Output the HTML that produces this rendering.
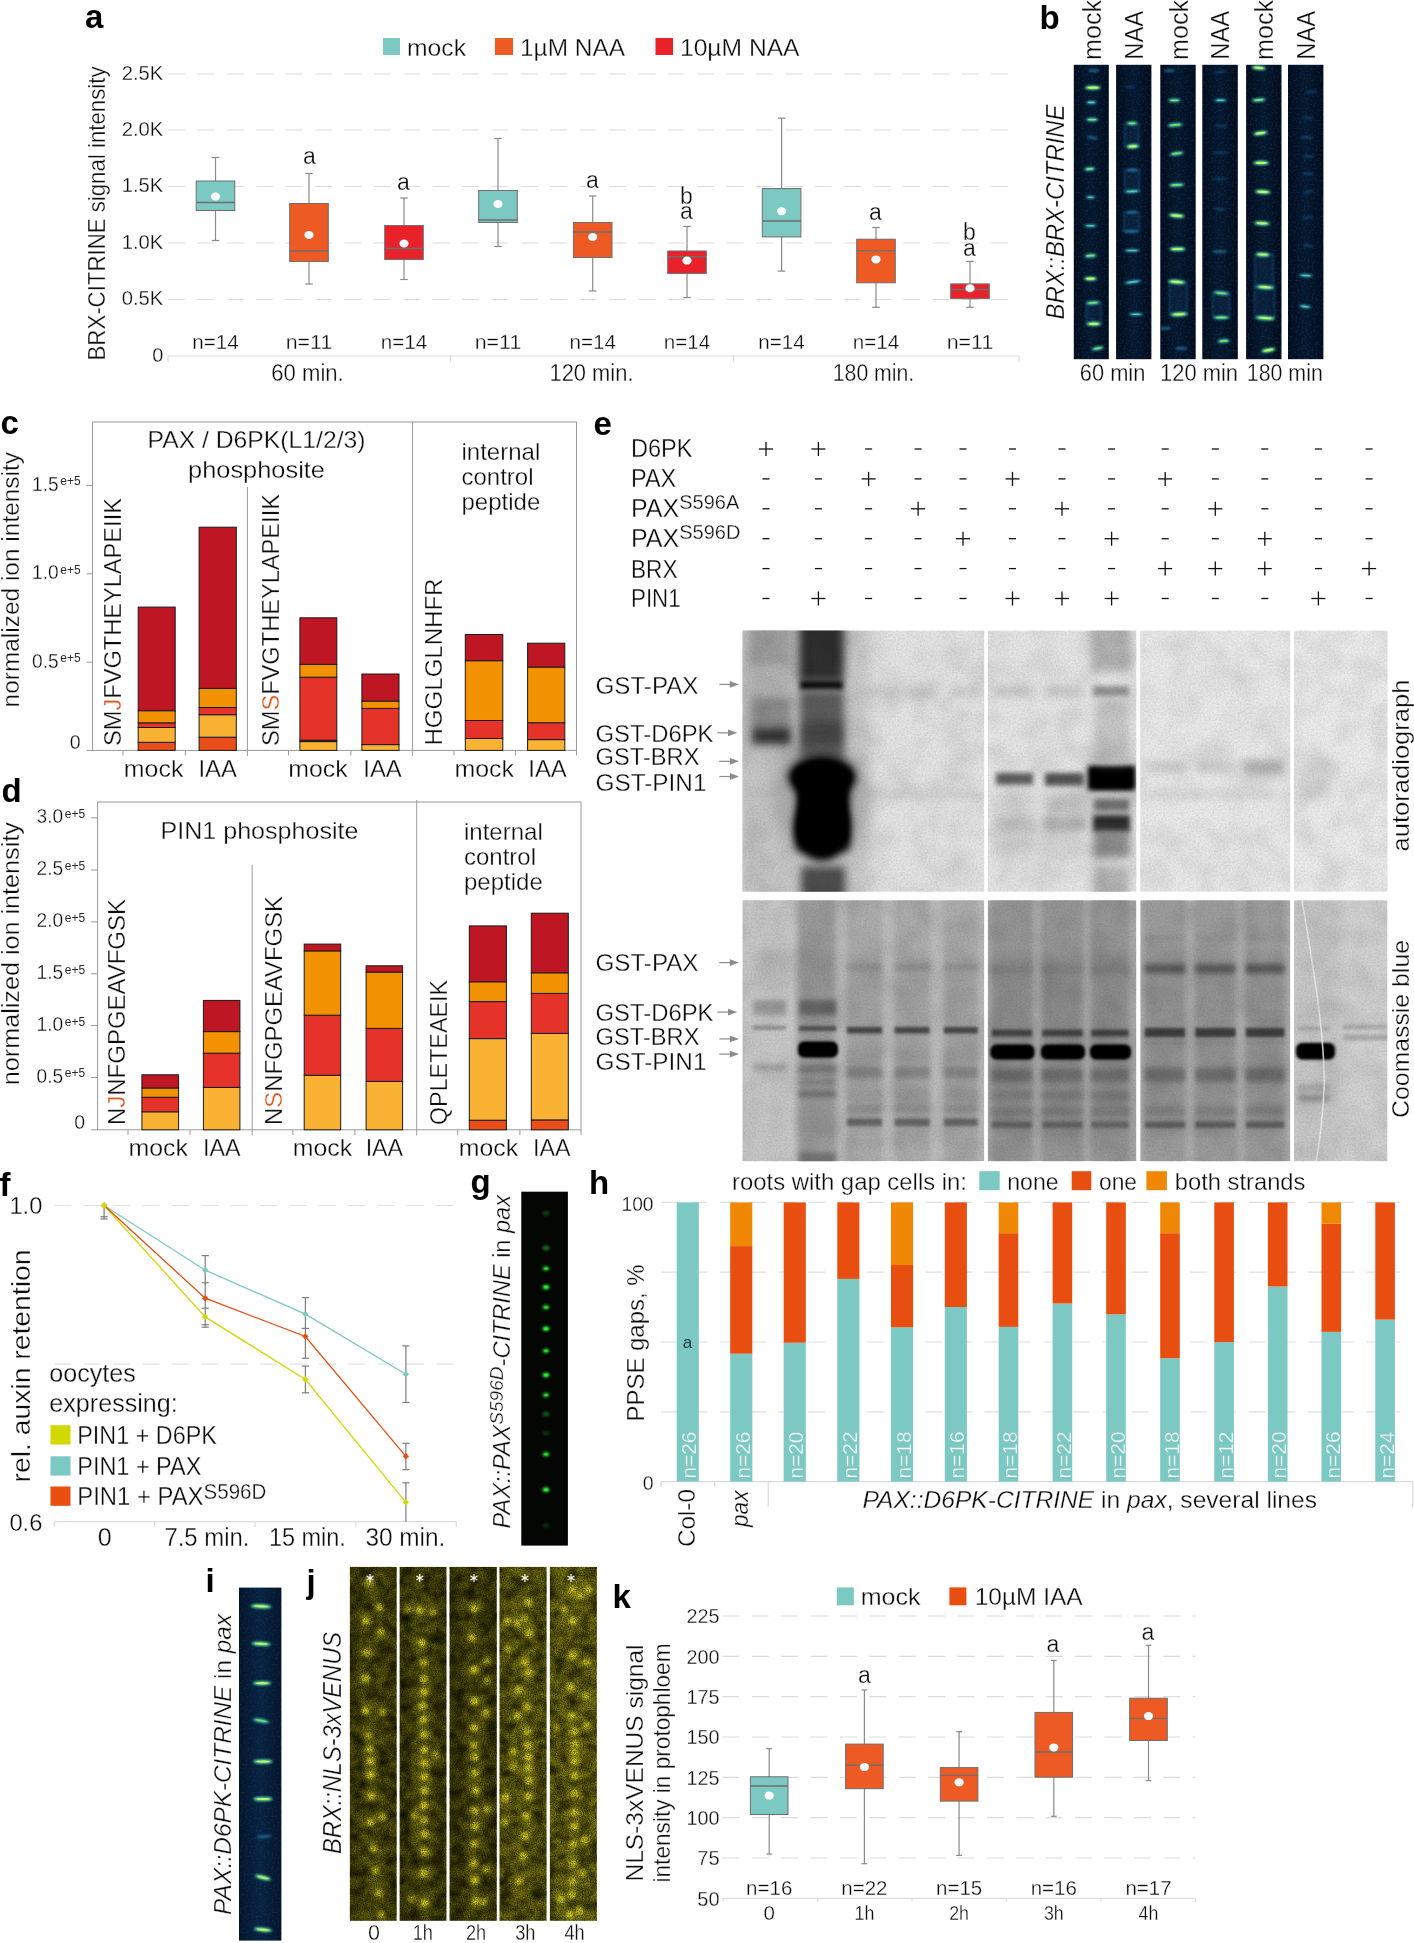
<!DOCTYPE html>
<html><head><meta charset="utf-8"><title>figure</title>
<style>
html,body{margin:0;padding:0;background:#fff;}
svg{display:block;will-change:transform;transform:translateZ(0)}
text{font-family:"Liberation Sans",sans-serif;}
text.t{stroke:#fff;stroke-width:0.3px;paint-order:fill stroke;}
</style></head><body>
<svg width="1414" height="1943" viewBox="0 0 1414 1943">
<defs>
<filter id="b1" x="-50%" y="-50%" width="200%" height="200%"><feGaussianBlur stdDeviation="1"/></filter>
<filter id="b2" x="-50%" y="-50%" width="200%" height="200%"><feGaussianBlur stdDeviation="2"/></filter>
<filter id="b3" x="-50%" y="-50%" width="200%" height="200%"><feGaussianBlur stdDeviation="3.5"/></filter>
<filter id="b08" x="-50%" y="-150%" width="200%" height="400%"><feGaussianBlur stdDeviation="0.8"/></filter>
<filter id="b04" x="-50%" y="-150%" width="200%" height="400%"><feGaussianBlur stdDeviation="0.45"/></filter>
<filter id="b05" x="-50%" y="-50%" width="200%" height="200%"><feGaussianBlur stdDeviation="0.6"/></filter>
</defs>
<rect width="1414" height="1943" fill="#fff"/>
<text x="85.0" y="28.0" font-size="33" font-weight="bold" class="n" fill="#000" >a</text>
<rect x="383.0" y="38.0" width="17.0" height="17.0" fill="#7cc8c2" />
<text x="407.0" y="55.5" font-size="24.5" textLength="59.0" lengthAdjust="spacingAndGlyphs" class="t" fill="#0c0c0c" >mock</text>
<rect x="495.0" y="38.0" width="18.0" height="17.0" fill="#ee5a24" />
<text x="520.0" y="55.5" font-size="24.5" textLength="105.0" lengthAdjust="spacingAndGlyphs" class="t" fill="#0c0c0c" >1µM NAA</text>
<rect x="655.5" y="38.0" width="17.5" height="17.0" fill="#e8212b" />
<text x="680.0" y="55.5" font-size="24.5" textLength="119.5" lengthAdjust="spacingAndGlyphs" class="t" fill="#0c0c0c" >10µM NAA</text>
<line x1="168.0" y1="74.0" x2="1019.0" y2="74.0" stroke="#dcdcdc" stroke-width="1.2" stroke-dasharray="17 12.4"/>
<text x="163.3" y="79.9" font-size="20" text-anchor="end" textLength="41.6" lengthAdjust="spacingAndGlyphs" class="t" fill="#0c0c0c" >2.5K</text>
<line x1="168.0" y1="130.0" x2="1019.0" y2="130.0" stroke="#dcdcdc" stroke-width="1.2" stroke-dasharray="17 12.4"/>
<text x="163.3" y="135.9" font-size="20" text-anchor="end" textLength="41.6" lengthAdjust="spacingAndGlyphs" class="t" fill="#0c0c0c" >2.0K</text>
<line x1="168.0" y1="186.5" x2="1019.0" y2="186.5" stroke="#dcdcdc" stroke-width="1.2" stroke-dasharray="17 12.4"/>
<text x="163.3" y="192.4" font-size="20" text-anchor="end" textLength="41.6" lengthAdjust="spacingAndGlyphs" class="t" fill="#0c0c0c" >1.5K</text>
<line x1="168.0" y1="243.0" x2="1019.0" y2="243.0" stroke="#dcdcdc" stroke-width="1.2" stroke-dasharray="17 12.4"/>
<text x="163.3" y="248.9" font-size="20" text-anchor="end" textLength="41.6" lengthAdjust="spacingAndGlyphs" class="t" fill="#0c0c0c" >1.0K</text>
<line x1="168.0" y1="299.5" x2="1019.0" y2="299.5" stroke="#dcdcdc" stroke-width="1.2" stroke-dasharray="17 12.4"/>
<text x="163.3" y="305.4" font-size="20" text-anchor="end" textLength="41.6" lengthAdjust="spacingAndGlyphs" class="t" fill="#0c0c0c" >0.5K</text>
<text x="163.3" y="361.9" font-size="20" text-anchor="end" class="t" fill="#0c0c0c" >0</text>
<line x1="168.0" y1="356.0" x2="1019.0" y2="356.0" stroke="#dedede" stroke-width="1.2" />
<line x1="168.0" y1="356.0" x2="168.0" y2="362.0" stroke="#dedede" stroke-width="1.2" />
<line x1="450.5" y1="356.0" x2="450.5" y2="362.0" stroke="#dedede" stroke-width="1.2" />
<line x1="733.5" y1="356.0" x2="733.5" y2="362.0" stroke="#dedede" stroke-width="1.2" />
<line x1="1019.0" y1="356.0" x2="1019.0" y2="362.0" stroke="#dedede" stroke-width="1.2" />
<text x="104.5" y="213.5" font-size="24.5" text-anchor="middle" transform="rotate(-90 104.5 213.5)" textLength="294.0" lengthAdjust="spacingAndGlyphs" class="t" fill="#0c0c0c" >BRX-CITRINE signal intensity</text>
<line x1="215.5" y1="157.5" x2="215.5" y2="240.5" stroke="#8a8a8a" stroke-width="1.2" />
<line x1="211.7" y1="157.5" x2="219.3" y2="157.5" stroke="#8a8a8a" stroke-width="1.2" />
<line x1="211.7" y1="240.5" x2="219.3" y2="240.5" stroke="#8a8a8a" stroke-width="1.2" />
<rect x="196.2" y="181.0" width="38.6" height="29.5" fill="#7cc8c2" stroke="#6e6e6e" stroke-width="1" />
<line x1="196.2" y1="202.5" x2="234.8" y2="202.5" stroke="#6e6e6e" stroke-width="1.4" />
<ellipse cx="215.5" cy="196.5" rx="4.6" ry="4" fill="#fff"/>
<text x="215.5" y="348.5" font-size="20.5" text-anchor="middle" textLength="46.5" lengthAdjust="spacingAndGlyphs" class="t" fill="#0c0c0c" >n=14</text>
<line x1="309.0" y1="173.5" x2="309.0" y2="284.0" stroke="#8a8a8a" stroke-width="1.2" />
<line x1="305.2" y1="173.5" x2="312.8" y2="173.5" stroke="#8a8a8a" stroke-width="1.2" />
<line x1="305.2" y1="284.0" x2="312.8" y2="284.0" stroke="#8a8a8a" stroke-width="1.2" />
<rect x="289.7" y="203.5" width="38.6" height="58.0" fill="#ee5a24" stroke="#6e6e6e" stroke-width="1" />
<line x1="289.7" y1="251.0" x2="328.3" y2="251.0" stroke="#6e6e6e" stroke-width="1.4" />
<ellipse cx="309.0" cy="235.0" rx="4.6" ry="4" fill="#fff"/>
<text x="309.0" y="348.5" font-size="20.5" text-anchor="middle" textLength="46.5" lengthAdjust="spacingAndGlyphs" class="t" fill="#0c0c0c" >n=11</text>
<line x1="404.0" y1="198.0" x2="404.0" y2="279.5" stroke="#8a8a8a" stroke-width="1.2" />
<line x1="400.2" y1="198.0" x2="407.8" y2="198.0" stroke="#8a8a8a" stroke-width="1.2" />
<line x1="400.2" y1="279.5" x2="407.8" y2="279.5" stroke="#8a8a8a" stroke-width="1.2" />
<rect x="384.7" y="225.5" width="38.6" height="34.0" fill="#e8212b" stroke="#6e6e6e" stroke-width="1" />
<line x1="384.7" y1="248.5" x2="423.3" y2="248.5" stroke="#6e6e6e" stroke-width="1.4" />
<ellipse cx="404.0" cy="243.5" rx="4.6" ry="4" fill="#fff"/>
<text x="404.0" y="348.5" font-size="20.5" text-anchor="middle" textLength="46.5" lengthAdjust="spacingAndGlyphs" class="t" fill="#0c0c0c" >n=14</text>
<line x1="498.0" y1="138.5" x2="498.0" y2="246.5" stroke="#8a8a8a" stroke-width="1.2" />
<line x1="494.2" y1="138.5" x2="501.8" y2="138.5" stroke="#8a8a8a" stroke-width="1.2" />
<line x1="494.2" y1="246.5" x2="501.8" y2="246.5" stroke="#8a8a8a" stroke-width="1.2" />
<rect x="478.7" y="190.5" width="38.6" height="32.0" fill="#7cc8c2" stroke="#6e6e6e" stroke-width="1" />
<line x1="478.7" y1="220.0" x2="517.3" y2="220.0" stroke="#6e6e6e" stroke-width="1.4" />
<ellipse cx="498.0" cy="204.0" rx="4.6" ry="4" fill="#fff"/>
<text x="498.0" y="348.5" font-size="20.5" text-anchor="middle" textLength="46.5" lengthAdjust="spacingAndGlyphs" class="t" fill="#0c0c0c" >n=11</text>
<line x1="592.7" y1="196.0" x2="592.7" y2="291.0" stroke="#8a8a8a" stroke-width="1.2" />
<line x1="588.9" y1="196.0" x2="596.5" y2="196.0" stroke="#8a8a8a" stroke-width="1.2" />
<line x1="588.9" y1="291.0" x2="596.5" y2="291.0" stroke="#8a8a8a" stroke-width="1.2" />
<rect x="573.4" y="222.5" width="38.6" height="35.0" fill="#ee5a24" stroke="#6e6e6e" stroke-width="1" />
<line x1="573.4" y1="232.0" x2="612.0" y2="232.0" stroke="#6e6e6e" stroke-width="1.4" />
<ellipse cx="592.7" cy="237.0" rx="4.6" ry="4" fill="#fff"/>
<text x="592.7" y="348.5" font-size="20.5" text-anchor="middle" textLength="46.5" lengthAdjust="spacingAndGlyphs" class="t" fill="#0c0c0c" >n=14</text>
<line x1="687.0" y1="226.4" x2="687.0" y2="297.5" stroke="#8a8a8a" stroke-width="1.2" />
<line x1="683.2" y1="226.4" x2="690.8" y2="226.4" stroke="#8a8a8a" stroke-width="1.2" />
<line x1="683.2" y1="297.5" x2="690.8" y2="297.5" stroke="#8a8a8a" stroke-width="1.2" />
<rect x="667.7" y="251.0" width="38.6" height="22.4" fill="#e8212b" stroke="#6e6e6e" stroke-width="1" />
<line x1="667.7" y1="256.7" x2="706.3" y2="256.7" stroke="#6e6e6e" stroke-width="1.4" />
<ellipse cx="687.0" cy="260.6" rx="4.6" ry="4" fill="#fff"/>
<text x="687.0" y="348.5" font-size="20.5" text-anchor="middle" textLength="46.5" lengthAdjust="spacingAndGlyphs" class="t" fill="#0c0c0c" >n=14</text>
<line x1="781.6" y1="118.2" x2="781.6" y2="271.1" stroke="#8a8a8a" stroke-width="1.2" />
<line x1="777.8" y1="118.2" x2="785.4" y2="118.2" stroke="#8a8a8a" stroke-width="1.2" />
<line x1="777.8" y1="271.1" x2="785.4" y2="271.1" stroke="#8a8a8a" stroke-width="1.2" />
<rect x="762.3" y="188.6" width="38.6" height="48.3" fill="#7cc8c2" stroke="#6e6e6e" stroke-width="1" />
<line x1="762.3" y1="221.0" x2="800.9" y2="221.0" stroke="#6e6e6e" stroke-width="1.4" />
<ellipse cx="781.6" cy="211.2" rx="4.6" ry="4" fill="#fff"/>
<text x="781.6" y="348.5" font-size="20.5" text-anchor="middle" textLength="46.5" lengthAdjust="spacingAndGlyphs" class="t" fill="#0c0c0c" >n=14</text>
<line x1="876.0" y1="227.5" x2="876.0" y2="307.3" stroke="#8a8a8a" stroke-width="1.2" />
<line x1="872.2" y1="227.5" x2="879.8" y2="227.5" stroke="#8a8a8a" stroke-width="1.2" />
<line x1="872.2" y1="307.3" x2="879.8" y2="307.3" stroke="#8a8a8a" stroke-width="1.2" />
<rect x="856.7" y="239.2" width="38.6" height="43.6" fill="#ee5a24" stroke="#6e6e6e" stroke-width="1" />
<line x1="856.7" y1="250.9" x2="895.3" y2="250.9" stroke="#6e6e6e" stroke-width="1.4" />
<ellipse cx="876.0" cy="259.4" rx="4.6" ry="4" fill="#fff"/>
<text x="876.0" y="348.5" font-size="20.5" text-anchor="middle" textLength="46.5" lengthAdjust="spacingAndGlyphs" class="t" fill="#0c0c0c" >n=14</text>
<line x1="970.0" y1="261.4" x2="970.0" y2="307.3" stroke="#8a8a8a" stroke-width="1.2" />
<line x1="966.2" y1="261.4" x2="973.8" y2="261.4" stroke="#8a8a8a" stroke-width="1.2" />
<line x1="966.2" y1="307.3" x2="973.8" y2="307.3" stroke="#8a8a8a" stroke-width="1.2" />
<rect x="950.7" y="283.9" width="38.6" height="14.8" fill="#e8212b" stroke="#6e6e6e" stroke-width="1" />
<line x1="950.7" y1="289.8" x2="989.3" y2="289.8" stroke="#6e6e6e" stroke-width="1.4" />
<ellipse cx="970.0" cy="288.2" rx="4.6" ry="4" fill="#fff"/>
<text x="970.0" y="348.5" font-size="20.5" text-anchor="middle" textLength="46.5" lengthAdjust="spacingAndGlyphs" class="t" fill="#0c0c0c" >n=11</text>
<text x="307.5" y="381.0" font-size="23.5" text-anchor="middle" textLength="72.5" lengthAdjust="spacingAndGlyphs" class="t" fill="#0c0c0c" >60 min.</text>
<text x="591.5" y="381.0" font-size="23.5" text-anchor="middle" textLength="84.0" lengthAdjust="spacingAndGlyphs" class="t" fill="#0c0c0c" >120 min.</text>
<text x="873.5" y="381.0" font-size="23.5" text-anchor="middle" textLength="81.5" lengthAdjust="spacingAndGlyphs" class="t" fill="#0c0c0c" >180 min.</text>
<text x="309.5" y="164.0" font-size="23" text-anchor="middle" class="t" fill="#0c0c0c" >a</text>
<text x="403.5" y="189.5" font-size="23" text-anchor="middle" class="t" fill="#0c0c0c" >a</text>
<text x="592.5" y="188.0" font-size="23" text-anchor="middle" class="t" fill="#0c0c0c" >a</text>
<text x="686.5" y="219.0" font-size="23" text-anchor="middle" class="t" fill="#0c0c0c" >a</text>
<text x="686.5" y="203.5" font-size="23" text-anchor="middle" class="t" fill="#0c0c0c" >b</text>
<text x="875.5" y="220.0" font-size="23" text-anchor="middle" class="t" fill="#0c0c0c" >a</text>
<text x="969.5" y="255.5" font-size="23" text-anchor="middle" class="t" fill="#0c0c0c" >a</text>
<text x="969.5" y="239.5" font-size="23" text-anchor="middle" class="t" fill="#0c0c0c" >b</text>
<text x="1039.5" y="29.3" font-size="33" font-weight="bold" class="n" fill="#000" >b</text>
<defs><linearGradient id="bgb" x1="0" x2="1" y1="0" y2="0"><stop offset="0" stop-color="#020b1c"/><stop offset="0.5" stop-color="#05182f"/><stop offset="1" stop-color="#020b1c"/></linearGradient></defs>
<clipPath id="cb0"><rect x="1073.8" y="64.8" width="35.0" height="294.4"/></clipPath>
<rect x="1073.8" y="64.8" width="35.0" height="294.4" fill="url(#bgb)" />
<clipPath id="cb1"><rect x="1116.1" y="64.8" width="35.3" height="294.4"/></clipPath>
<rect x="1116.1" y="64.8" width="35.3" height="294.4" fill="url(#bgb)" />
<clipPath id="cb2"><rect x="1160.3" y="64.8" width="35.4" height="294.4"/></clipPath>
<rect x="1160.3" y="64.8" width="35.4" height="294.4" fill="url(#bgb)" />
<clipPath id="cb3"><rect x="1202.3" y="64.8" width="35.5" height="294.4"/></clipPath>
<rect x="1202.3" y="64.8" width="35.5" height="294.4" fill="url(#bgb)" />
<clipPath id="cb4"><rect x="1246.1" y="64.8" width="35.4" height="294.4"/></clipPath>
<rect x="1246.1" y="64.8" width="35.4" height="294.4" fill="url(#bgb)" />
<clipPath id="cb5"><rect x="1288" y="64.8" width="35.4" height="294.4"/></clipPath>
<rect x="1288.0" y="64.8" width="35.4" height="294.4" fill="url(#bgb)" />
<defs><filter id="bn" x="0" y="0" width="100%" height="100%"><feTurbulence type="fractalNoise" baseFrequency="0.5" numOctaves="2" seed="2" result="n"/><feColorMatrix in="n" type="matrix" values="0 0 0 0 0.08  0 0 0 0 0.28  0 0 0 0 0.5  0.8 0 0 0 -0.36"/></filter></defs>
<g clip-path="url(#cb0)">
<rect x="1073.8" y="64.8" width="35.0" height="294.4" fill="#000" filter="url(#bn)" opacity="0.55"/>
<rect x="1086.5" y="302.8" width="14.4" height="21.1" fill="#124a7c" fill-opacity="0.35" stroke="#2a78b0" stroke-width="1.2" opacity="0.5" filter="url(#b1)"/>
<ellipse cx="1093.7" cy="70.6" rx="5.6" ry="1.6" fill="#2a86b4" opacity="0.65" filter="url(#b08)"/>
<ellipse cx="1092.9" cy="87.7" rx="8.0" ry="2.3" fill="#52d9a0" opacity="1" filter="url(#b08)"/>
<ellipse cx="1092.9" cy="87.7" rx="5.3" ry="1.1" fill="#c8f264" filter="url(#b04)"/>
<ellipse cx="1091.3" cy="102.4" rx="5.6" ry="1.8" fill="#35a7c4" opacity="0.8" filter="url(#b08)"/>
<ellipse cx="1091.3" cy="102.4" rx="3.5" ry="0.8" fill="#55c8b0" filter="url(#b04)"/>
<ellipse cx="1092.1" cy="119.6" rx="6.4" ry="2.1" fill="#3fc0b0" opacity="0.9" filter="url(#b08)"/>
<ellipse cx="1092.1" cy="119.6" rx="4.1" ry="0.9" fill="#7fe268" filter="url(#b04)"/>
<ellipse cx="1092.1" cy="137.5" rx="5.6" ry="1.6" fill="#2a86b4" opacity="0.65" filter="url(#b08)" transform="rotate(12 1092.1 137.5)"/>
<ellipse cx="1089.7" cy="168.9" rx="5.6" ry="2.1" fill="#3fc0b0" opacity="0.9" filter="url(#b08)" transform="rotate(-4 1089.7 168.9)"/>
<ellipse cx="1089.7" cy="168.9" rx="3.5" ry="0.9" fill="#7fe268" filter="url(#b04)" transform="rotate(-4 1089.7 168.9)"/>
<ellipse cx="1090.5" cy="197.3" rx="4.8" ry="1.8" fill="#35a7c4" opacity="0.8" filter="url(#b08)"/>
<ellipse cx="1090.5" cy="197.3" rx="3.0" ry="0.8" fill="#55c8b0" filter="url(#b04)"/>
<ellipse cx="1090.5" cy="225.7" rx="6.4" ry="1.8" fill="#35a7c4" opacity="0.8" filter="url(#b08)"/>
<ellipse cx="1090.5" cy="225.7" rx="4.1" ry="0.8" fill="#55c8b0" filter="url(#b04)"/>
<ellipse cx="1090.5" cy="255.7" rx="6.4" ry="2.1" fill="#3fc0b0" opacity="0.9" filter="url(#b08)" transform="rotate(-4 1090.5 255.7)"/>
<ellipse cx="1090.5" cy="255.7" rx="4.1" ry="0.9" fill="#7fe268" filter="url(#b04)" transform="rotate(-4 1090.5 255.7)"/>
<ellipse cx="1090.5" cy="278.7" rx="6.4" ry="2.3" fill="#52d9a0" opacity="1" filter="url(#b08)"/>
<ellipse cx="1090.5" cy="278.7" rx="4.1" ry="1.1" fill="#c8f264" filter="url(#b04)"/>
<ellipse cx="1092.9" cy="302.8" rx="7.2" ry="2.1" fill="#3fc0b0" opacity="0.9" filter="url(#b08)" transform="rotate(-4 1092.9 302.8)"/>
<ellipse cx="1092.9" cy="302.8" rx="4.7" ry="0.9" fill="#7fe268" filter="url(#b04)" transform="rotate(-4 1092.9 302.8)"/>
<ellipse cx="1093.7" cy="323.9" rx="7.2" ry="2.3" fill="#52d9a0" opacity="1" filter="url(#b08)"/>
<ellipse cx="1093.7" cy="323.9" rx="4.7" ry="1.1" fill="#c8f264" filter="url(#b04)"/>
<ellipse cx="1097.7" cy="348.3" rx="6.4" ry="2.1" fill="#3fc0b0" opacity="0.9" filter="url(#b08)" transform="rotate(-10 1097.7 348.3)"/>
<ellipse cx="1097.7" cy="348.3" rx="4.1" ry="0.9" fill="#7fe268" filter="url(#b04)" transform="rotate(-10 1097.7 348.3)"/>
</g>
<g clip-path="url(#cb1)">
<rect x="1116.1" y="64.8" width="35.3" height="294.4" fill="#000" filter="url(#bn)" opacity="0.55"/>
<rect x="1124.8" y="123.3" width="13.6" height="23.1" fill="#124a7c" fill-opacity="0.35" stroke="#2a78b0" stroke-width="1.2" opacity="0.5" filter="url(#b1)"/>
<rect x="1124.8" y="169.9" width="14.4" height="21.5" fill="#124a7c" fill-opacity="0.35" stroke="#2a78b0" stroke-width="1.2" opacity="0.5" filter="url(#b1)"/>
<rect x="1124.0" y="212.2" width="15.2" height="19.1" fill="#124a7c" fill-opacity="0.35" stroke="#2a78b0" stroke-width="1.2" opacity="0.5" filter="url(#b1)"/>
<ellipse cx="1129.6" cy="86.9" rx="4.8" ry="1.4" fill="#1d5f96" opacity="0.5" filter="url(#b08)"/>
<ellipse cx="1132.0" cy="123.3" rx="5.6" ry="2.1" fill="#3fc0b0" opacity="0.9" filter="url(#b08)"/>
<ellipse cx="1132.0" cy="123.3" rx="3.5" ry="0.9" fill="#7fe268" filter="url(#b04)"/>
<ellipse cx="1132.8" cy="146.4" rx="6.4" ry="2.3" fill="#52d9a0" opacity="1" filter="url(#b08)" transform="rotate(-4 1132.8 146.4)"/>
<ellipse cx="1132.8" cy="146.4" rx="4.1" ry="1.1" fill="#c8f264" filter="url(#b04)" transform="rotate(-4 1132.8 146.4)"/>
<ellipse cx="1132.0" cy="169.9" rx="5.6" ry="1.6" fill="#2a86b4" opacity="0.65" filter="url(#b08)"/>
<ellipse cx="1132.0" cy="191.4" rx="8.0" ry="1.8" fill="#35a7c4" opacity="0.8" filter="url(#b08)" transform="rotate(-3 1132.0 191.4)"/>
<ellipse cx="1132.0" cy="191.4" rx="5.3" ry="0.8" fill="#55c8b0" filter="url(#b04)" transform="rotate(-3 1132.0 191.4)"/>
<ellipse cx="1132.0" cy="212.2" rx="5.6" ry="1.6" fill="#2a86b4" opacity="0.65" filter="url(#b08)"/>
<ellipse cx="1131.2" cy="231.3" rx="8.0" ry="1.6" fill="#2a86b4" opacity="0.65" filter="url(#b08)"/>
<ellipse cx="1132.0" cy="250.5" rx="8.0" ry="1.8" fill="#35a7c4" opacity="0.8" filter="url(#b08)"/>
<ellipse cx="1132.0" cy="250.5" rx="5.3" ry="0.8" fill="#55c8b0" filter="url(#b04)"/>
<ellipse cx="1132.8" cy="281.9" rx="8.8" ry="1.8" fill="#35a7c4" opacity="0.8" filter="url(#b08)" transform="rotate(-8 1132.8 281.9)"/>
<ellipse cx="1132.8" cy="281.9" rx="5.9" ry="0.8" fill="#55c8b0" filter="url(#b04)" transform="rotate(-8 1132.8 281.9)"/>
<ellipse cx="1136.0" cy="314.3" rx="7.2" ry="1.8" fill="#35a7c4" opacity="0.8" filter="url(#b08)"/>
<ellipse cx="1136.0" cy="314.3" rx="4.7" ry="0.8" fill="#55c8b0" filter="url(#b04)"/>
</g>
<g clip-path="url(#cb2)">
<rect x="1160.3" y="64.8" width="35.4" height="294.4" fill="#000" filter="url(#bn)" opacity="0.55"/>
<rect x="1169.5" y="281.9" width="17.6" height="32.4" fill="#124a7c" fill-opacity="0.35" stroke="#2a78b0" stroke-width="1.2" opacity="0.5" filter="url(#b1)"/>
<ellipse cx="1169.5" cy="70.6" rx="5.6" ry="1.6" fill="#2a86b4" opacity="0.65" filter="url(#b08)"/>
<ellipse cx="1174.3" cy="100.3" rx="6.4" ry="2.1" fill="#3fc0b0" opacity="0.9" filter="url(#b08)"/>
<ellipse cx="1174.3" cy="100.3" rx="4.1" ry="0.9" fill="#7fe268" filter="url(#b04)"/>
<ellipse cx="1175.1" cy="124.9" rx="8.0" ry="2.1" fill="#3fc0b0" opacity="0.9" filter="url(#b08)" transform="rotate(-5 1175.1 124.9)"/>
<ellipse cx="1175.1" cy="124.9" rx="5.3" ry="0.9" fill="#7fe268" filter="url(#b04)" transform="rotate(-5 1175.1 124.9)"/>
<ellipse cx="1176.7" cy="153.5" rx="7.2" ry="2.1" fill="#3fc0b0" opacity="0.9" filter="url(#b08)" transform="rotate(-8 1176.7 153.5)"/>
<ellipse cx="1176.7" cy="153.5" rx="4.7" ry="0.9" fill="#7fe268" filter="url(#b04)" transform="rotate(-8 1176.7 153.5)"/>
<ellipse cx="1176.7" cy="184.9" rx="8.0" ry="2.1" fill="#3fc0b0" opacity="0.9" filter="url(#b08)" transform="rotate(-3 1176.7 184.9)"/>
<ellipse cx="1176.7" cy="184.9" rx="5.3" ry="0.9" fill="#7fe268" filter="url(#b04)" transform="rotate(-3 1176.7 184.9)"/>
<ellipse cx="1176.7" cy="215.7" rx="8.0" ry="2.3" fill="#52d9a0" opacity="1" filter="url(#b08)" transform="rotate(5 1176.7 215.7)"/>
<ellipse cx="1176.7" cy="215.7" rx="5.3" ry="1.1" fill="#c8f264" filter="url(#b04)" transform="rotate(5 1176.7 215.7)"/>
<ellipse cx="1177.5" cy="249.0" rx="8.0" ry="2.3" fill="#52d9a0" opacity="1" filter="url(#b08)"/>
<ellipse cx="1177.5" cy="249.0" rx="5.3" ry="1.1" fill="#c8f264" filter="url(#b04)"/>
<ellipse cx="1176.7" cy="281.9" rx="8.8" ry="2.3" fill="#52d9a0" opacity="1" filter="url(#b08)" transform="rotate(5 1176.7 281.9)"/>
<ellipse cx="1176.7" cy="281.9" rx="5.9" ry="1.1" fill="#c8f264" filter="url(#b04)" transform="rotate(5 1176.7 281.9)"/>
<ellipse cx="1179.1" cy="314.3" rx="8.8" ry="2.3" fill="#52d9a0" opacity="1" filter="url(#b08)" transform="rotate(-3 1179.1 314.3)"/>
<ellipse cx="1179.1" cy="314.3" rx="5.9" ry="1.1" fill="#c8f264" filter="url(#b04)" transform="rotate(-3 1179.1 314.3)"/>
<ellipse cx="1165.5" cy="328.2" rx="5.6" ry="1.6" fill="#2a86b4" opacity="0.65" filter="url(#b08)"/>
<ellipse cx="1181.5" cy="348.3" rx="6.4" ry="1.6" fill="#2a86b4" opacity="0.65" filter="url(#b08)"/>
</g>
<g clip-path="url(#cb3)">
<rect x="1202.3" y="64.8" width="35.5" height="294.4" fill="#000" filter="url(#bn)" opacity="0.55"/>
<rect x="1212.6" y="293.1" width="16.8" height="24.4" fill="#124a7c" fill-opacity="0.35" stroke="#2a78b0" stroke-width="1.2" opacity="0.5" filter="url(#b1)"/>
<ellipse cx="1219.7" cy="71.8" rx="6.4" ry="1.4" fill="#1d5f96" opacity="0.5" filter="url(#b08)" transform="rotate(-5 1219.7 71.8)"/>
<ellipse cx="1220.5" cy="100.3" rx="6.4" ry="1.8" fill="#35a7c4" opacity="0.8" filter="url(#b08)"/>
<ellipse cx="1220.5" cy="100.3" rx="4.1" ry="0.8" fill="#55c8b0" filter="url(#b04)"/>
<ellipse cx="1221.3" cy="126.0" rx="6.4" ry="1.4" fill="#1d5f96" opacity="0.5" filter="url(#b08)" transform="rotate(5 1221.3 126.0)"/>
<ellipse cx="1220.5" cy="152.7" rx="8.0" ry="1.4" fill="#1d5f96" opacity="0.5" filter="url(#b08)"/>
<ellipse cx="1219.7" cy="179.1" rx="8.0" ry="1.4" fill="#1d5f96" opacity="0.5" filter="url(#b08)"/>
<ellipse cx="1219.7" cy="209.0" rx="6.4" ry="1.4" fill="#1d5f96" opacity="0.5" filter="url(#b08)" transform="rotate(5 1219.7 209.0)"/>
<ellipse cx="1219.7" cy="251.6" rx="8.0" ry="1.6" fill="#2a86b4" opacity="0.65" filter="url(#b08)"/>
<ellipse cx="1221.3" cy="293.1" rx="8.0" ry="2.1" fill="#3fc0b0" opacity="0.9" filter="url(#b08)" transform="rotate(6 1221.3 293.1)"/>
<ellipse cx="1221.3" cy="293.1" rx="5.3" ry="0.9" fill="#7fe268" filter="url(#b04)" transform="rotate(6 1221.3 293.1)"/>
<ellipse cx="1221.3" cy="317.5" rx="8.0" ry="2.1" fill="#3fc0b0" opacity="0.9" filter="url(#b08)"/>
<ellipse cx="1221.3" cy="317.5" rx="5.3" ry="0.9" fill="#7fe268" filter="url(#b04)"/>
<ellipse cx="1223.7" cy="340.9" rx="6.4" ry="2.1" fill="#3fc0b0" opacity="0.9" filter="url(#b08)" transform="rotate(-4 1223.7 340.9)"/>
<ellipse cx="1223.7" cy="340.9" rx="4.1" ry="0.9" fill="#7fe268" filter="url(#b04)" transform="rotate(-4 1223.7 340.9)"/>
</g>
<g clip-path="url(#cb4)">
<rect x="1246.1" y="64.8" width="35.4" height="294.4" fill="#000" filter="url(#bn)" opacity="0.55"/>
<rect x="1254.8" y="254.5" width="18.4" height="32.7" fill="#124a7c" fill-opacity="0.35" stroke="#2a78b0" stroke-width="1.2" opacity="0.5" filter="url(#b1)"/>
<rect x="1254.8" y="287.2" width="19.9" height="30.8" fill="#124a7c" fill-opacity="0.35" stroke="#2a78b0" stroke-width="1.2" opacity="0.5" filter="url(#b1)"/>
<ellipse cx="1258.8" cy="67.8" rx="7.2" ry="2.3" fill="#52d9a0" opacity="1" filter="url(#b08)" transform="rotate(5 1258.8 67.8)"/>
<ellipse cx="1258.8" cy="67.8" rx="4.7" ry="1.1" fill="#c8f264" filter="url(#b04)" transform="rotate(5 1258.8 67.8)"/>
<ellipse cx="1258.8" cy="100.0" rx="7.2" ry="2.1" fill="#3fc0b0" opacity="0.9" filter="url(#b08)" transform="rotate(-5 1258.8 100.0)"/>
<ellipse cx="1258.8" cy="100.0" rx="4.7" ry="0.9" fill="#7fe268" filter="url(#b04)" transform="rotate(-5 1258.8 100.0)"/>
<ellipse cx="1260.4" cy="133.2" rx="7.2" ry="2.3" fill="#52d9a0" opacity="1" filter="url(#b08)" transform="rotate(-8 1260.4 133.2)"/>
<ellipse cx="1260.4" cy="133.2" rx="4.7" ry="1.1" fill="#c8f264" filter="url(#b04)" transform="rotate(-8 1260.4 133.2)"/>
<ellipse cx="1261.2" cy="162.9" rx="8.0" ry="2.3" fill="#52d9a0" opacity="1" filter="url(#b08)"/>
<ellipse cx="1261.2" cy="162.9" rx="5.3" ry="1.1" fill="#c8f264" filter="url(#b04)"/>
<ellipse cx="1262.8" cy="191.9" rx="8.0" ry="2.3" fill="#52d9a0" opacity="1" filter="url(#b08)" transform="rotate(3 1262.8 191.9)"/>
<ellipse cx="1262.8" cy="191.9" rx="5.3" ry="1.1" fill="#c8f264" filter="url(#b04)" transform="rotate(3 1262.8 191.9)"/>
<ellipse cx="1262.0" cy="223.3" rx="8.0" ry="2.3" fill="#52d9a0" opacity="1" filter="url(#b08)" transform="rotate(3 1262.0 223.3)"/>
<ellipse cx="1262.0" cy="223.3" rx="5.3" ry="1.1" fill="#c8f264" filter="url(#b04)" transform="rotate(3 1262.0 223.3)"/>
<ellipse cx="1262.8" cy="254.5" rx="7.2" ry="2.3" fill="#52d9a0" opacity="1" filter="url(#b08)" transform="rotate(3 1262.8 254.5)"/>
<ellipse cx="1262.8" cy="254.5" rx="4.7" ry="1.1" fill="#c8f264" filter="url(#b04)" transform="rotate(3 1262.8 254.5)"/>
<ellipse cx="1265.2" cy="287.2" rx="8.8" ry="2.3" fill="#52d9a0" opacity="1" filter="url(#b08)" transform="rotate(4 1265.2 287.2)"/>
<ellipse cx="1265.2" cy="287.2" rx="5.9" ry="1.1" fill="#c8f264" filter="url(#b04)" transform="rotate(4 1265.2 287.2)"/>
<ellipse cx="1265.2" cy="318.0" rx="9.6" ry="2.3" fill="#52d9a0" opacity="1" filter="url(#b08)" transform="rotate(4 1265.2 318.0)"/>
<ellipse cx="1265.2" cy="318.0" rx="6.5" ry="1.1" fill="#c8f264" filter="url(#b04)" transform="rotate(4 1265.2 318.0)"/>
<ellipse cx="1268.4" cy="350.2" rx="7.2" ry="2.3" fill="#52d9a0" opacity="1" filter="url(#b08)" transform="rotate(-10 1268.4 350.2)"/>
<ellipse cx="1268.4" cy="350.2" rx="4.7" ry="1.1" fill="#c8f264" filter="url(#b04)" transform="rotate(-10 1268.4 350.2)"/>
</g>
<g clip-path="url(#cb5)">
<rect x="1288" y="64.8" width="35.4" height="294.4" fill="#000" filter="url(#bn)" opacity="0.55"/>
<ellipse cx="1311.5" cy="92.0" rx="5.6" ry="1.4" fill="#1d5f96" opacity="0.5" filter="url(#b08)" transform="rotate(-8 1311.5 92.0)"/>
<ellipse cx="1308.3" cy="118.0" rx="4.8" ry="1.4" fill="#1d5f96" opacity="0.5" filter="url(#b08)" transform="rotate(5 1308.3 118.0)"/>
<ellipse cx="1306.7" cy="137.5" rx="7.2" ry="1.4" fill="#1d5f96" opacity="0.5" filter="url(#b08)"/>
<ellipse cx="1308.3" cy="156.3" rx="6.4" ry="1.4" fill="#1d5f96" opacity="0.5" filter="url(#b08)"/>
<ellipse cx="1308.3" cy="173.9" rx="5.6" ry="1.4" fill="#1d5f96" opacity="0.5" filter="url(#b08)" transform="rotate(5 1308.3 173.9)"/>
<ellipse cx="1308.3" cy="191.9" rx="5.6" ry="1.4" fill="#1d5f96" opacity="0.5" filter="url(#b08)" transform="rotate(-15 1308.3 191.9)"/>
<ellipse cx="1307.5" cy="217.4" rx="6.4" ry="1.4" fill="#1d5f96" opacity="0.5" filter="url(#b08)" transform="rotate(-5 1307.5 217.4)"/>
<ellipse cx="1308.3" cy="245.7" rx="5.6" ry="1.4" fill="#1d5f96" opacity="0.5" filter="url(#b08)" transform="rotate(10 1308.3 245.7)"/>
<ellipse cx="1305.9" cy="275.5" rx="7.2" ry="1.8" fill="#35a7c4" opacity="0.8" filter="url(#b08)" transform="rotate(3 1305.9 275.5)"/>
<ellipse cx="1305.9" cy="275.5" rx="4.7" ry="0.8" fill="#55c8b0" filter="url(#b04)" transform="rotate(3 1305.9 275.5)"/>
<ellipse cx="1305.1" cy="306.6" rx="6.4" ry="1.8" fill="#35a7c4" opacity="0.8" filter="url(#b08)" transform="rotate(8 1305.1 306.6)"/>
<ellipse cx="1305.1" cy="306.6" rx="4.1" ry="0.8" fill="#55c8b0" filter="url(#b04)" transform="rotate(8 1305.1 306.6)"/>
</g>
<text x="1100.8" y="60.0" font-size="25" transform="rotate(-90 1100.8 60.0)" textLength="60.0" lengthAdjust="spacingAndGlyphs" class="t" fill="#0c0c0c" >mock</text>
<text x="1143.0" y="59.8" font-size="25" transform="rotate(-90 1143.0 59.8)" textLength="49.0" lengthAdjust="spacingAndGlyphs" class="t" fill="#0c0c0c" >NAA</text>
<text x="1187.5" y="60.0" font-size="25" transform="rotate(-90 1187.5 60.0)" textLength="60.0" lengthAdjust="spacingAndGlyphs" class="t" fill="#0c0c0c" >mock</text>
<text x="1229.2" y="59.8" font-size="25" transform="rotate(-90 1229.2 59.8)" textLength="49.0" lengthAdjust="spacingAndGlyphs" class="t" fill="#0c0c0c" >NAA</text>
<text x="1273.3" y="60.0" font-size="25" transform="rotate(-90 1273.3 60.0)" textLength="60.0" lengthAdjust="spacingAndGlyphs" class="t" fill="#0c0c0c" >mock</text>
<text x="1314.9" y="59.8" font-size="25" transform="rotate(-90 1314.9 59.8)" textLength="49.0" lengthAdjust="spacingAndGlyphs" class="t" fill="#0c0c0c" >NAA</text>
<text x="1112.6" y="380.5" font-size="23.5" text-anchor="middle" textLength="65.5" lengthAdjust="spacingAndGlyphs" class="t" fill="#0c0c0c" >60 min</text>
<text x="1199.0" y="380.5" font-size="23.5" text-anchor="middle" textLength="78.0" lengthAdjust="spacingAndGlyphs" class="t" fill="#0c0c0c" >120 min</text>
<text x="1284.8" y="380.5" font-size="23.5" text-anchor="middle" textLength="76.0" lengthAdjust="spacingAndGlyphs" class="t" fill="#0c0c0c" >180 min</text>
<text x="1064.0" y="212.0" font-size="26" text-anchor="middle" transform="rotate(-90 1064.0 212.0)" textLength="215.0" lengthAdjust="spacingAndGlyphs" font-style="italic" class="t" fill="#0c0c0c" >BRX::BRX-CITRINE</text>
<text x="0.5" y="433.5" font-size="33" font-weight="bold" class="n" fill="#000" >c</text>
<rect x="92.5" y="422.0" width="484.0" height="328.4" fill="none" stroke="#9a9a9a" stroke-width="1" />
<line x1="412.6" y1="422.0" x2="412.6" y2="756.0" stroke="#9a9a9a" stroke-width="1" />
<line x1="247.4" y1="487.0" x2="247.4" y2="756.0" stroke="#9a9a9a" stroke-width="1" />
<line x1="123.0" y1="750.4" x2="123.0" y2="755.5" stroke="#9a9a9a" stroke-width="1" />
<line x1="185.4" y1="750.4" x2="185.4" y2="755.5" stroke="#9a9a9a" stroke-width="1" />
<line x1="288.5" y1="750.4" x2="288.5" y2="755.5" stroke="#9a9a9a" stroke-width="1" />
<line x1="350.9" y1="750.4" x2="350.9" y2="755.5" stroke="#9a9a9a" stroke-width="1" />
<line x1="454.0" y1="750.4" x2="454.0" y2="755.5" stroke="#9a9a9a" stroke-width="1" />
<line x1="515.6" y1="750.4" x2="515.6" y2="755.5" stroke="#9a9a9a" stroke-width="1" />
<line x1="576.5" y1="750.4" x2="576.5" y2="755.5" stroke="#9a9a9a" stroke-width="1" />
<line x1="86.5" y1="485.5" x2="92.5" y2="485.5" stroke="#9a9a9a" stroke-width="1" />
<text x="32.1" y="490.9" class="t" fill="#0c0c0c" font-size="19.5" textLength="26.6" lengthAdjust="spacingAndGlyphs">1.5</text>
<text x="60.3" y="485.4" class="n" fill="#2a2a2a" font-size="12.5" textLength="20.3" lengthAdjust="spacingAndGlyphs">e+5</text>
<line x1="86.5" y1="573.8" x2="92.5" y2="573.8" stroke="#9a9a9a" stroke-width="1" />
<text x="32.1" y="579.2" class="t" fill="#0c0c0c" font-size="19.5" textLength="26.6" lengthAdjust="spacingAndGlyphs">1.0</text>
<text x="60.3" y="573.7" class="n" fill="#2a2a2a" font-size="12.5" textLength="20.3" lengthAdjust="spacingAndGlyphs">e+5</text>
<line x1="86.5" y1="662.2" x2="92.5" y2="662.2" stroke="#9a9a9a" stroke-width="1" />
<text x="32.1" y="667.6" class="t" fill="#0c0c0c" font-size="19.5" textLength="26.6" lengthAdjust="spacingAndGlyphs">0.5</text>
<text x="60.3" y="662.1" class="n" fill="#2a2a2a" font-size="12.5" textLength="20.3" lengthAdjust="spacingAndGlyphs">e+5</text>
<line x1="86.5" y1="750.4" x2="92.5" y2="750.4" stroke="#9a9a9a" stroke-width="1" />
<text x="80.5" y="749.4" font-size="19.5" text-anchor="end" class="t" fill="#0c0c0c" >0</text>
<text x="19.2" y="579.7" font-size="23.5" text-anchor="middle" transform="rotate(-90 19.2 579.7)" textLength="255.5" lengthAdjust="spacingAndGlyphs" class="t" fill="#0c0c0c" >normalized ion intensity</text>
<text x="256.5" y="448.0" font-size="24" text-anchor="middle" textLength="218.0" lengthAdjust="spacingAndGlyphs" class="t" fill="#0c0c0c" >PAX / D6PK(L1/2/3)</text>
<text x="256.5" y="477.5" font-size="24" text-anchor="middle" textLength="137.0" lengthAdjust="spacingAndGlyphs" class="t" fill="#0c0c0c" >phosphosite</text>
<text x="461.5" y="459.5" font-size="24" class="t" fill="#0c0c0c" >internal</text>
<text x="461.5" y="484.5" font-size="24" class="t" fill="#0c0c0c" >control</text>
<text x="461.5" y="509.5" font-size="24" class="t" fill="#0c0c0c" >peptide</text>
<rect x="138.2" y="742.3" width="37.0" height="8.1" fill="#e94e1b" stroke="#1a1a1a" stroke-width="1" />
<rect x="138.2" y="727.5" width="37.0" height="14.8" fill="#f9b233" stroke="#1a1a1a" stroke-width="1" />
<rect x="138.2" y="722.8" width="37.0" height="4.7" fill="#e6332a" stroke="#1a1a1a" stroke-width="1" />
<rect x="138.2" y="710.7" width="37.0" height="12.1" fill="#f39200" stroke="#1a1a1a" stroke-width="1" />
<rect x="138.2" y="607.1" width="37.0" height="103.6" fill="#be1622" stroke="#1a1a1a" stroke-width="1" />
<rect x="199.1" y="737.2" width="37.2" height="13.2" fill="#e94e1b" stroke="#1a1a1a" stroke-width="1" />
<rect x="199.1" y="714.7" width="37.2" height="22.5" fill="#f9b233" stroke="#1a1a1a" stroke-width="1" />
<rect x="199.1" y="707.5" width="37.2" height="7.2" fill="#e6332a" stroke="#1a1a1a" stroke-width="1" />
<rect x="199.1" y="688.4" width="37.2" height="19.1" fill="#f39200" stroke="#1a1a1a" stroke-width="1" />
<rect x="199.1" y="527.2" width="37.2" height="161.2" fill="#be1622" stroke="#1a1a1a" stroke-width="1" />
<rect x="299.9" y="741.6" width="36.9" height="8.8" fill="#f9b233" stroke="#1a1a1a" stroke-width="1" />
<rect x="299.9" y="740.2" width="36.9" height="1.4" fill="#1a1a1a" stroke="#1a1a1a" stroke-width="1" />
<rect x="299.9" y="677.2" width="36.9" height="63.0" fill="#e6332a" stroke="#1a1a1a" stroke-width="1" />
<rect x="299.9" y="664.4" width="36.9" height="12.8" fill="#f39200" stroke="#1a1a1a" stroke-width="1" />
<rect x="299.9" y="617.8" width="36.9" height="46.6" fill="#be1622" stroke="#1a1a1a" stroke-width="1" />
<rect x="361.9" y="744.6" width="37.1" height="5.8" fill="#f9b233" stroke="#1a1a1a" stroke-width="1" />
<rect x="361.9" y="708.4" width="37.1" height="36.2" fill="#e6332a" stroke="#1a1a1a" stroke-width="1" />
<rect x="361.9" y="701.1" width="37.1" height="7.3" fill="#f39200" stroke="#1a1a1a" stroke-width="1" />
<rect x="361.9" y="674.0" width="37.1" height="27.1" fill="#be1622" stroke="#1a1a1a" stroke-width="1" />
<rect x="465.3" y="738.5" width="37.5" height="11.9" fill="#f9b233" stroke="#1a1a1a" stroke-width="1" />
<rect x="465.3" y="720.5" width="37.5" height="18.0" fill="#e6332a" stroke="#1a1a1a" stroke-width="1" />
<rect x="465.3" y="660.7" width="37.5" height="59.8" fill="#f39200" stroke="#1a1a1a" stroke-width="1" />
<rect x="465.3" y="634.5" width="37.5" height="26.2" fill="#be1622" stroke="#1a1a1a" stroke-width="1" />
<rect x="527.6" y="739.6" width="37.2" height="10.8" fill="#f9b233" stroke="#1a1a1a" stroke-width="1" />
<rect x="527.6" y="722.7" width="37.2" height="16.9" fill="#e6332a" stroke="#1a1a1a" stroke-width="1" />
<rect x="527.6" y="667.1" width="37.2" height="55.6" fill="#f39200" stroke="#1a1a1a" stroke-width="1" />
<rect x="527.6" y="643.2" width="37.2" height="23.9" fill="#be1622" stroke="#1a1a1a" stroke-width="1" />
<text x="153.6" y="776.5" font-size="24" text-anchor="middle" textLength="59.5" lengthAdjust="spacingAndGlyphs" class="t" fill="#0c0c0c" >mock</text>
<text x="318.0" y="776.5" font-size="24" text-anchor="middle" textLength="59.5" lengthAdjust="spacingAndGlyphs" class="t" fill="#0c0c0c" >mock</text>
<text x="484.2" y="776.5" font-size="24" text-anchor="middle" textLength="59.5" lengthAdjust="spacingAndGlyphs" class="t" fill="#0c0c0c" >mock</text>
<text x="217.7" y="776.5" font-size="24" text-anchor="middle" textLength="38.5" lengthAdjust="spacingAndGlyphs" class="t" fill="#0c0c0c" >IAA</text>
<text x="382.5" y="776.5" font-size="24" text-anchor="middle" textLength="38.5" lengthAdjust="spacingAndGlyphs" class="t" fill="#0c0c0c" >IAA</text>
<text x="547.5" y="776.5" font-size="24" text-anchor="middle" textLength="38.5" lengthAdjust="spacingAndGlyphs" class="t" fill="#0c0c0c" >IAA</text>
<text x="120.5" y="746.0" font-size="24.5" transform="rotate(-90 120.5 746.0)" textLength="248.0" lengthAdjust="spacingAndGlyphs" class="t" fill="#0c0c0c" ><tspan fill="#0c0c0c">SM</tspan><tspan fill="#e8501a">J</tspan><tspan fill="#0c0c0c">FVGTHEYLAPEIIK</tspan></text>
<text x="278.5" y="746.0" font-size="24.5" transform="rotate(-90 278.5 746.0)" textLength="252.0" lengthAdjust="spacingAndGlyphs" class="t" fill="#0c0c0c" ><tspan fill="#0c0c0c">SM</tspan><tspan fill="#e8501a">S</tspan><tspan fill="#0c0c0c">FVGTHEYLAPEIIK</tspan></text>
<text x="441.7" y="745.5" font-size="24.5" transform="rotate(-90 441.7 745.5)" textLength="167.0" lengthAdjust="spacingAndGlyphs" class="t" fill="#0c0c0c" ><tspan fill="#0c0c0c">HGGLGLNHFR</tspan></text>
<text x="1.5" y="801.5" font-size="33" font-weight="bold" class="n" fill="#000" >d</text>
<rect x="97.6" y="802.0" width="483.4" height="327.8" fill="none" stroke="#9a9a9a" stroke-width="1" />
<line x1="416.7" y1="800.0" x2="416.7" y2="1135.5" stroke="#9a9a9a" stroke-width="1" />
<line x1="252.2" y1="865.0" x2="252.2" y2="1135.5" stroke="#9a9a9a" stroke-width="1" />
<line x1="128.0" y1="1129.8" x2="128.0" y2="1135.0" stroke="#9a9a9a" stroke-width="1" />
<line x1="190.0" y1="1129.8" x2="190.0" y2="1135.0" stroke="#9a9a9a" stroke-width="1" />
<line x1="292.9" y1="1129.8" x2="292.9" y2="1135.0" stroke="#9a9a9a" stroke-width="1" />
<line x1="354.9" y1="1129.8" x2="354.9" y2="1135.0" stroke="#9a9a9a" stroke-width="1" />
<line x1="457.7" y1="1129.8" x2="457.7" y2="1135.0" stroke="#9a9a9a" stroke-width="1" />
<line x1="519.9" y1="1129.8" x2="519.9" y2="1135.0" stroke="#9a9a9a" stroke-width="1" />
<line x1="581.0" y1="1129.8" x2="581.0" y2="1135.0" stroke="#9a9a9a" stroke-width="1" />
<line x1="91.0" y1="817.8" x2="97.6" y2="817.8" stroke="#9a9a9a" stroke-width="1" />
<text x="36.6" y="823.2" class="t" fill="#0c0c0c" font-size="19.5" textLength="26.6" lengthAdjust="spacingAndGlyphs">3.0</text>
<text x="64.8" y="817.7" class="n" fill="#2a2a2a" font-size="12.5" textLength="20.3" lengthAdjust="spacingAndGlyphs">e+5</text>
<line x1="91.0" y1="870.0" x2="97.6" y2="870.0" stroke="#9a9a9a" stroke-width="1" />
<text x="36.6" y="875.4" class="t" fill="#0c0c0c" font-size="19.5" textLength="26.6" lengthAdjust="spacingAndGlyphs">2.5</text>
<text x="64.8" y="869.9" class="n" fill="#2a2a2a" font-size="12.5" textLength="20.3" lengthAdjust="spacingAndGlyphs">e+5</text>
<line x1="91.0" y1="921.9" x2="97.6" y2="921.9" stroke="#9a9a9a" stroke-width="1" />
<text x="36.6" y="927.3" class="t" fill="#0c0c0c" font-size="19.5" textLength="26.6" lengthAdjust="spacingAndGlyphs">2.0</text>
<text x="64.8" y="921.8" class="n" fill="#2a2a2a" font-size="12.5" textLength="20.3" lengthAdjust="spacingAndGlyphs">e+5</text>
<line x1="91.0" y1="973.8" x2="97.6" y2="973.8" stroke="#9a9a9a" stroke-width="1" />
<text x="36.6" y="979.2" class="t" fill="#0c0c0c" font-size="19.5" textLength="26.6" lengthAdjust="spacingAndGlyphs">1.5</text>
<text x="64.8" y="973.7" class="n" fill="#2a2a2a" font-size="12.5" textLength="20.3" lengthAdjust="spacingAndGlyphs">e+5</text>
<line x1="91.0" y1="1025.6" x2="97.6" y2="1025.6" stroke="#9a9a9a" stroke-width="1" />
<text x="36.6" y="1031.0" class="t" fill="#0c0c0c" font-size="19.5" textLength="26.6" lengthAdjust="spacingAndGlyphs">1.0</text>
<text x="64.8" y="1025.5" class="n" fill="#2a2a2a" font-size="12.5" textLength="20.3" lengthAdjust="spacingAndGlyphs">e+5</text>
<line x1="91.0" y1="1077.5" x2="97.6" y2="1077.5" stroke="#9a9a9a" stroke-width="1" />
<text x="36.6" y="1082.9" class="t" fill="#0c0c0c" font-size="19.5" textLength="26.6" lengthAdjust="spacingAndGlyphs">0.5</text>
<text x="64.8" y="1077.4" class="n" fill="#2a2a2a" font-size="12.5" textLength="20.3" lengthAdjust="spacingAndGlyphs">e+5</text>
<line x1="91.0" y1="1129.8" x2="97.6" y2="1129.8" stroke="#9a9a9a" stroke-width="1" />
<text x="85.0" y="1129.3" font-size="19.5" text-anchor="end" class="t" fill="#0c0c0c" >0</text>
<text x="19.2" y="953.7" font-size="23.5" text-anchor="middle" transform="rotate(-90 19.2 953.7)" textLength="263.0" lengthAdjust="spacingAndGlyphs" class="t" fill="#0c0c0c" >normalized ion intensity</text>
<text x="259.5" y="839.0" font-size="24" text-anchor="middle" textLength="198.0" lengthAdjust="spacingAndGlyphs" class="t" fill="#0c0c0c" >PIN1 phosphosite</text>
<text x="464.0" y="840.0" font-size="24" class="t" fill="#0c0c0c" >internal</text>
<text x="464.0" y="865.0" font-size="24" class="t" fill="#0c0c0c" >control</text>
<text x="464.0" y="890.0" font-size="24" class="t" fill="#0c0c0c" >peptide</text>
<rect x="141.9" y="1111.8" width="36.7" height="18.0" fill="#f9b233" stroke="#1a1a1a" stroke-width="1" />
<rect x="141.9" y="1097.3" width="36.7" height="14.5" fill="#e6332a" stroke="#1a1a1a" stroke-width="1" />
<rect x="141.9" y="1088.0" width="36.7" height="9.3" fill="#f39200" stroke="#1a1a1a" stroke-width="1" />
<rect x="141.9" y="1074.8" width="36.7" height="13.2" fill="#be1622" stroke="#1a1a1a" stroke-width="1" />
<rect x="203.4" y="1087.4" width="36.5" height="42.4" fill="#f9b233" stroke="#1a1a1a" stroke-width="1" />
<rect x="203.4" y="1053.2" width="36.5" height="34.2" fill="#e6332a" stroke="#1a1a1a" stroke-width="1" />
<rect x="203.4" y="1031.6" width="36.5" height="21.6" fill="#f39200" stroke="#1a1a1a" stroke-width="1" />
<rect x="203.4" y="1000.4" width="36.5" height="31.2" fill="#be1622" stroke="#1a1a1a" stroke-width="1" />
<rect x="304.2" y="1075.3" width="36.5" height="54.5" fill="#f9b233" stroke="#1a1a1a" stroke-width="1" />
<rect x="304.2" y="1015.2" width="36.5" height="60.1" fill="#e6332a" stroke="#1a1a1a" stroke-width="1" />
<rect x="304.2" y="950.9" width="36.5" height="64.3" fill="#f39200" stroke="#1a1a1a" stroke-width="1" />
<rect x="304.2" y="944.1" width="36.5" height="6.8" fill="#be1622" stroke="#1a1a1a" stroke-width="1" />
<rect x="366.1" y="1081.4" width="36.5" height="48.4" fill="#f9b233" stroke="#1a1a1a" stroke-width="1" />
<rect x="366.1" y="1028.4" width="36.5" height="53.0" fill="#e6332a" stroke="#1a1a1a" stroke-width="1" />
<rect x="366.1" y="972.1" width="36.5" height="56.3" fill="#f39200" stroke="#1a1a1a" stroke-width="1" />
<rect x="366.1" y="965.8" width="36.5" height="6.3" fill="#be1622" stroke="#1a1a1a" stroke-width="1" />
<rect x="469.3" y="1120.2" width="37.1" height="9.6" fill="#e94e1b" stroke="#1a1a1a" stroke-width="1" />
<rect x="469.3" y="1038.6" width="37.1" height="81.6" fill="#f9b233" stroke="#1a1a1a" stroke-width="1" />
<rect x="469.3" y="1001.6" width="37.1" height="37.0" fill="#e6332a" stroke="#1a1a1a" stroke-width="1" />
<rect x="469.3" y="981.8" width="37.1" height="19.8" fill="#f39200" stroke="#1a1a1a" stroke-width="1" />
<rect x="469.3" y="925.9" width="37.1" height="55.9" fill="#be1622" stroke="#1a1a1a" stroke-width="1" />
<rect x="531.3" y="1119.9" width="37.0" height="9.9" fill="#e94e1b" stroke="#1a1a1a" stroke-width="1" />
<rect x="531.3" y="1033.4" width="37.0" height="86.5" fill="#f9b233" stroke="#1a1a1a" stroke-width="1" />
<rect x="531.3" y="993.4" width="37.0" height="40.0" fill="#e6332a" stroke="#1a1a1a" stroke-width="1" />
<rect x="531.3" y="972.8" width="37.0" height="20.6" fill="#f39200" stroke="#1a1a1a" stroke-width="1" />
<rect x="531.3" y="913.2" width="37.0" height="59.6" fill="#be1622" stroke="#1a1a1a" stroke-width="1" />
<text x="158.2" y="1156.0" font-size="24" text-anchor="middle" textLength="59.5" lengthAdjust="spacingAndGlyphs" class="t" fill="#0c0c0c" >mock</text>
<text x="322.5" y="1156.0" font-size="24" text-anchor="middle" textLength="59.5" lengthAdjust="spacingAndGlyphs" class="t" fill="#0c0c0c" >mock</text>
<text x="488.4" y="1156.0" font-size="24" text-anchor="middle" textLength="59.5" lengthAdjust="spacingAndGlyphs" class="t" fill="#0c0c0c" >mock</text>
<text x="221.7" y="1156.0" font-size="24" text-anchor="middle" textLength="37.5" lengthAdjust="spacingAndGlyphs" class="t" fill="#0c0c0c" >IAA</text>
<text x="384.4" y="1156.0" font-size="24" text-anchor="middle" textLength="37.5" lengthAdjust="spacingAndGlyphs" class="t" fill="#0c0c0c" >IAA</text>
<text x="551.7" y="1156.0" font-size="24" text-anchor="middle" textLength="37.5" lengthAdjust="spacingAndGlyphs" class="t" fill="#0c0c0c" >IAA</text>
<text x="124.5" y="1125.0" font-size="24.5" transform="rotate(-90 124.5 1125.0)" textLength="226.0" lengthAdjust="spacingAndGlyphs" class="t" fill="#0c0c0c" ><tspan fill="#0c0c0c">N</tspan><tspan fill="#e8501a">J</tspan><tspan fill="#0c0c0c">NFGPGEAVFGSK</tspan></text>
<text x="282.3" y="1125.0" font-size="24.5" transform="rotate(-90 282.3 1125.0)" textLength="229.0" lengthAdjust="spacingAndGlyphs" class="t" fill="#0c0c0c" ><tspan fill="#0c0c0c">N</tspan><tspan fill="#e8501a">S</tspan><tspan fill="#0c0c0c">NFGPGEAVFGSK</tspan></text>
<text x="446.7" y="1125.0" font-size="24.5" transform="rotate(-90 446.7 1125.0)" textLength="145.0" lengthAdjust="spacingAndGlyphs" class="t" fill="#0c0c0c" ><tspan fill="#0c0c0c">QPLETEAEIK</tspan></text>
<text x="593.5" y="434.8" font-size="33" font-weight="bold" class="n" fill="#000" >e</text>
<text x="631.0" y="457.3" font-size="25" textLength="61.5" lengthAdjust="spacingAndGlyphs" class="t" fill="#0c0c0c" >D6PK</text>
<text x="631.0" y="487.2" font-size="25" textLength="45.3" lengthAdjust="spacingAndGlyphs" class="t" fill="#0c0c0c" >PAX</text>
<text x="631" y="517" class="t" fill="#0c0c0c" font-size="25">PAX<tspan font-size="20" dy="-7.6">S596A</tspan></text>
<text x="631" y="547" class="t" fill="#0c0c0c" font-size="25">PAX<tspan font-size="20" dy="-7.6">S596D</tspan></text>
<text x="631.0" y="577.5" font-size="25" textLength="46.6" lengthAdjust="spacingAndGlyphs" class="t" fill="#0c0c0c" >BRX</text>
<text x="631.0" y="607.2" font-size="25" textLength="49.7" lengthAdjust="spacingAndGlyphs" class="t" fill="#0c0c0c" >PIN1</text>
<line x1="759.0" y1="449.0" x2="773.0" y2="449.0" stroke="#111" stroke-width="1.3" />
<line x1="766.0" y1="442.0" x2="766.0" y2="456.0" stroke="#111" stroke-width="1.3" />
<line x1="811.4" y1="449.0" x2="825.4" y2="449.0" stroke="#111" stroke-width="1.3" />
<line x1="818.4" y1="442.0" x2="818.4" y2="456.0" stroke="#111" stroke-width="1.3" />
<line x1="865.1" y1="449.0" x2="872.1" y2="449.0" stroke="#111" stroke-width="1.3" />
<line x1="914.6" y1="449.0" x2="921.6" y2="449.0" stroke="#111" stroke-width="1.3" />
<line x1="959.5" y1="449.0" x2="966.5" y2="449.0" stroke="#111" stroke-width="1.3" />
<line x1="1009.0" y1="449.0" x2="1016.0" y2="449.0" stroke="#111" stroke-width="1.3" />
<line x1="1058.5" y1="449.0" x2="1065.5" y2="449.0" stroke="#111" stroke-width="1.3" />
<line x1="1108.1" y1="449.0" x2="1115.1" y2="449.0" stroke="#111" stroke-width="1.3" />
<line x1="1161.7" y1="449.0" x2="1168.7" y2="449.0" stroke="#111" stroke-width="1.3" />
<line x1="1211.8" y1="449.0" x2="1218.8" y2="449.0" stroke="#111" stroke-width="1.3" />
<line x1="1261.3" y1="449.0" x2="1268.3" y2="449.0" stroke="#111" stroke-width="1.3" />
<line x1="1314.9" y1="449.0" x2="1321.9" y2="449.0" stroke="#111" stroke-width="1.3" />
<line x1="1365.6" y1="449.0" x2="1372.6" y2="449.0" stroke="#111" stroke-width="1.3" />
<line x1="762.5" y1="478.9" x2="769.5" y2="478.9" stroke="#111" stroke-width="1.3" />
<line x1="814.9" y1="478.9" x2="821.9" y2="478.9" stroke="#111" stroke-width="1.3" />
<line x1="861.6" y1="478.9" x2="875.6" y2="478.9" stroke="#111" stroke-width="1.3" />
<line x1="868.6" y1="471.9" x2="868.6" y2="485.9" stroke="#111" stroke-width="1.3" />
<line x1="914.6" y1="478.9" x2="921.6" y2="478.9" stroke="#111" stroke-width="1.3" />
<line x1="959.5" y1="478.9" x2="966.5" y2="478.9" stroke="#111" stroke-width="1.3" />
<line x1="1005.5" y1="478.9" x2="1019.5" y2="478.9" stroke="#111" stroke-width="1.3" />
<line x1="1012.5" y1="471.9" x2="1012.5" y2="485.9" stroke="#111" stroke-width="1.3" />
<line x1="1058.5" y1="478.9" x2="1065.5" y2="478.9" stroke="#111" stroke-width="1.3" />
<line x1="1108.1" y1="478.9" x2="1115.1" y2="478.9" stroke="#111" stroke-width="1.3" />
<line x1="1158.2" y1="478.9" x2="1172.2" y2="478.9" stroke="#111" stroke-width="1.3" />
<line x1="1165.2" y1="471.9" x2="1165.2" y2="485.9" stroke="#111" stroke-width="1.3" />
<line x1="1211.8" y1="478.9" x2="1218.8" y2="478.9" stroke="#111" stroke-width="1.3" />
<line x1="1261.3" y1="478.9" x2="1268.3" y2="478.9" stroke="#111" stroke-width="1.3" />
<line x1="1314.9" y1="478.9" x2="1321.9" y2="478.9" stroke="#111" stroke-width="1.3" />
<line x1="1365.6" y1="478.9" x2="1372.6" y2="478.9" stroke="#111" stroke-width="1.3" />
<line x1="762.5" y1="508.8" x2="769.5" y2="508.8" stroke="#111" stroke-width="1.3" />
<line x1="814.9" y1="508.8" x2="821.9" y2="508.8" stroke="#111" stroke-width="1.3" />
<line x1="865.1" y1="508.8" x2="872.1" y2="508.8" stroke="#111" stroke-width="1.3" />
<line x1="911.1" y1="508.8" x2="925.1" y2="508.8" stroke="#111" stroke-width="1.3" />
<line x1="918.1" y1="501.8" x2="918.1" y2="515.8" stroke="#111" stroke-width="1.3" />
<line x1="959.5" y1="508.8" x2="966.5" y2="508.8" stroke="#111" stroke-width="1.3" />
<line x1="1009.0" y1="508.8" x2="1016.0" y2="508.8" stroke="#111" stroke-width="1.3" />
<line x1="1055.0" y1="508.8" x2="1069.0" y2="508.8" stroke="#111" stroke-width="1.3" />
<line x1="1062.0" y1="501.8" x2="1062.0" y2="515.8" stroke="#111" stroke-width="1.3" />
<line x1="1108.1" y1="508.8" x2="1115.1" y2="508.8" stroke="#111" stroke-width="1.3" />
<line x1="1161.7" y1="508.8" x2="1168.7" y2="508.8" stroke="#111" stroke-width="1.3" />
<line x1="1208.3" y1="508.8" x2="1222.3" y2="508.8" stroke="#111" stroke-width="1.3" />
<line x1="1215.3" y1="501.8" x2="1215.3" y2="515.8" stroke="#111" stroke-width="1.3" />
<line x1="1261.3" y1="508.8" x2="1268.3" y2="508.8" stroke="#111" stroke-width="1.3" />
<line x1="1314.9" y1="508.8" x2="1321.9" y2="508.8" stroke="#111" stroke-width="1.3" />
<line x1="1365.6" y1="508.8" x2="1372.6" y2="508.8" stroke="#111" stroke-width="1.3" />
<line x1="762.5" y1="538.7" x2="769.5" y2="538.7" stroke="#111" stroke-width="1.3" />
<line x1="814.9" y1="538.7" x2="821.9" y2="538.7" stroke="#111" stroke-width="1.3" />
<line x1="865.1" y1="538.7" x2="872.1" y2="538.7" stroke="#111" stroke-width="1.3" />
<line x1="914.6" y1="538.7" x2="921.6" y2="538.7" stroke="#111" stroke-width="1.3" />
<line x1="956.0" y1="538.7" x2="970.0" y2="538.7" stroke="#111" stroke-width="1.3" />
<line x1="963.0" y1="531.7" x2="963.0" y2="545.7" stroke="#111" stroke-width="1.3" />
<line x1="1009.0" y1="538.7" x2="1016.0" y2="538.7" stroke="#111" stroke-width="1.3" />
<line x1="1058.5" y1="538.7" x2="1065.5" y2="538.7" stroke="#111" stroke-width="1.3" />
<line x1="1104.6" y1="538.7" x2="1118.6" y2="538.7" stroke="#111" stroke-width="1.3" />
<line x1="1111.6" y1="531.7" x2="1111.6" y2="545.7" stroke="#111" stroke-width="1.3" />
<line x1="1161.7" y1="538.7" x2="1168.7" y2="538.7" stroke="#111" stroke-width="1.3" />
<line x1="1211.8" y1="538.7" x2="1218.8" y2="538.7" stroke="#111" stroke-width="1.3" />
<line x1="1257.8" y1="538.7" x2="1271.8" y2="538.7" stroke="#111" stroke-width="1.3" />
<line x1="1264.8" y1="531.7" x2="1264.8" y2="545.7" stroke="#111" stroke-width="1.3" />
<line x1="1314.9" y1="538.7" x2="1321.9" y2="538.7" stroke="#111" stroke-width="1.3" />
<line x1="1365.6" y1="538.7" x2="1372.6" y2="538.7" stroke="#111" stroke-width="1.3" />
<line x1="762.5" y1="568.6" x2="769.5" y2="568.6" stroke="#111" stroke-width="1.3" />
<line x1="814.9" y1="568.6" x2="821.9" y2="568.6" stroke="#111" stroke-width="1.3" />
<line x1="865.1" y1="568.6" x2="872.1" y2="568.6" stroke="#111" stroke-width="1.3" />
<line x1="914.6" y1="568.6" x2="921.6" y2="568.6" stroke="#111" stroke-width="1.3" />
<line x1="959.5" y1="568.6" x2="966.5" y2="568.6" stroke="#111" stroke-width="1.3" />
<line x1="1009.0" y1="568.6" x2="1016.0" y2="568.6" stroke="#111" stroke-width="1.3" />
<line x1="1058.5" y1="568.6" x2="1065.5" y2="568.6" stroke="#111" stroke-width="1.3" />
<line x1="1108.1" y1="568.6" x2="1115.1" y2="568.6" stroke="#111" stroke-width="1.3" />
<line x1="1158.2" y1="568.6" x2="1172.2" y2="568.6" stroke="#111" stroke-width="1.3" />
<line x1="1165.2" y1="561.6" x2="1165.2" y2="575.6" stroke="#111" stroke-width="1.3" />
<line x1="1208.3" y1="568.6" x2="1222.3" y2="568.6" stroke="#111" stroke-width="1.3" />
<line x1="1215.3" y1="561.6" x2="1215.3" y2="575.6" stroke="#111" stroke-width="1.3" />
<line x1="1257.8" y1="568.6" x2="1271.8" y2="568.6" stroke="#111" stroke-width="1.3" />
<line x1="1264.8" y1="561.6" x2="1264.8" y2="575.6" stroke="#111" stroke-width="1.3" />
<line x1="1314.9" y1="568.6" x2="1321.9" y2="568.6" stroke="#111" stroke-width="1.3" />
<line x1="1362.1" y1="568.6" x2="1376.1" y2="568.6" stroke="#111" stroke-width="1.3" />
<line x1="1369.1" y1="561.6" x2="1369.1" y2="575.6" stroke="#111" stroke-width="1.3" />
<line x1="762.5" y1="598.5" x2="769.5" y2="598.5" stroke="#111" stroke-width="1.3" />
<line x1="811.4" y1="598.5" x2="825.4" y2="598.5" stroke="#111" stroke-width="1.3" />
<line x1="818.4" y1="591.5" x2="818.4" y2="605.5" stroke="#111" stroke-width="1.3" />
<line x1="865.1" y1="598.5" x2="872.1" y2="598.5" stroke="#111" stroke-width="1.3" />
<line x1="914.6" y1="598.5" x2="921.6" y2="598.5" stroke="#111" stroke-width="1.3" />
<line x1="959.5" y1="598.5" x2="966.5" y2="598.5" stroke="#111" stroke-width="1.3" />
<line x1="1005.5" y1="598.5" x2="1019.5" y2="598.5" stroke="#111" stroke-width="1.3" />
<line x1="1012.5" y1="591.5" x2="1012.5" y2="605.5" stroke="#111" stroke-width="1.3" />
<line x1="1055.0" y1="598.5" x2="1069.0" y2="598.5" stroke="#111" stroke-width="1.3" />
<line x1="1062.0" y1="591.5" x2="1062.0" y2="605.5" stroke="#111" stroke-width="1.3" />
<line x1="1104.6" y1="598.5" x2="1118.6" y2="598.5" stroke="#111" stroke-width="1.3" />
<line x1="1111.6" y1="591.5" x2="1111.6" y2="605.5" stroke="#111" stroke-width="1.3" />
<line x1="1161.7" y1="598.5" x2="1168.7" y2="598.5" stroke="#111" stroke-width="1.3" />
<line x1="1211.8" y1="598.5" x2="1218.8" y2="598.5" stroke="#111" stroke-width="1.3" />
<line x1="1261.3" y1="598.5" x2="1268.3" y2="598.5" stroke="#111" stroke-width="1.3" />
<line x1="1311.4" y1="598.5" x2="1325.4" y2="598.5" stroke="#111" stroke-width="1.3" />
<line x1="1318.4" y1="591.5" x2="1318.4" y2="605.5" stroke="#111" stroke-width="1.3" />
<line x1="1365.6" y1="598.5" x2="1372.6" y2="598.5" stroke="#111" stroke-width="1.3" />
<defs><filter id="g05" filterUnits="userSpaceOnUse" x="700" y="600" width="720" height="600"><feGaussianBlur stdDeviation="1.0"/></filter><filter id="g1" filterUnits="userSpaceOnUse" x="700" y="600" width="720" height="600"><feGaussianBlur stdDeviation="1.6"/></filter><filter id="g2" filterUnits="userSpaceOnUse" x="700" y="600" width="720" height="600"><feGaussianBlur stdDeviation="2.5"/></filter><filter id="g3" filterUnits="userSpaceOnUse" x="700" y="600" width="720" height="600"><feGaussianBlur stdDeviation="4.2"/></filter><filter id="g5" filterUnits="userSpaceOnUse" x="700" y="600" width="720" height="600"><feGaussianBlur stdDeviation="7"/></filter></defs>
<defs><filter id="gn" x="0" y="0" width="100%" height="100%"><feTurbulence type="fractalNoise" baseFrequency="0.55" numOctaves="2" seed="5" result="n"/><feColorMatrix in="n" type="matrix" values="0 0 0 0 0  0 0 0 0 0  0 0 0 0 0  0.16 0 0 0 -0.05"/></filter><filter id="gn2" x="0" y="0" width="100%" height="100%"><feTurbulence type="fractalNoise" baseFrequency="0.035" numOctaves="2" seed="8" result="n"/><feColorMatrix in="n" type="matrix" values="0 0 0 0 0  0 0 0 0 0  0 0 0 0 0  0.16 0 0 0 -0.06"/></filter></defs>
<clipPath id="ca"><rect x="742.5" y="630.6" width="645.0" height="261.19999999999993"/></clipPath>
<g clip-path="url(#ca)">
<rect x="740.5" y="630.6" width="245.9" height="261.2" fill="rgb(228,228,228)" />
<rect x="985.6" y="630.6" width="152.9" height="261.2" fill="rgb(230,230,230)" />
<rect x="1138.2" y="630.6" width="154.2" height="261.2" fill="rgb(234,234,234)" />
<rect x="1291.8" y="630.6" width="97.7" height="261.2" fill="rgb(236,236,236)" />
<rect x="735.0" y="600.0" width="135.0" height="320.0" fill="rgb(150,150,150)" opacity="0.33" filter="url(#g5)"/>
<rect x="735.0" y="600.0" width="65.0" height="160.0" fill="rgb(150,150,150)" opacity="0.25" filter="url(#g5)"/>
<rect x="750.0" y="622.0" width="42.0" height="46.0" fill="rgb(150,150,150)" opacity="0.75" filter="url(#g3)"/>
<rect x="752.0" y="668.0" width="39.0" height="32.0" fill="rgb(175,175,175)" opacity="0.7" filter="url(#g3)"/>
<rect x="752.0" y="698.0" width="39.0" height="30.0" fill="rgb(125,125,125)" opacity="0.75" filter="url(#g3)"/>
<rect x="752.0" y="727.0" width="39.0" height="18.0" fill="rgb(45,45,45)" opacity="0.95" filter="url(#g3)"/>
<rect x="750.0" y="750.0" width="43.0" height="150.0" fill="rgb(195,195,195)" opacity="0.5" filter="url(#g5)"/>
<ellipse cx="822.0" cy="800.0" rx="48.0" ry="60.0" fill="rgb(120,120,120)" opacity="0.35" filter="url(#g5)"/>
<rect x="799.0" y="615.0" width="45.0" height="67.0" fill="rgb(40,40,40)" opacity="0.95" filter="url(#g3)"/>
<rect x="800.0" y="681.0" width="43.0" height="9.0" fill="rgb(0,0,0)" opacity="1" filter="url(#g2)"/>
<rect x="800.0" y="690.0" width="44.0" height="70.0" fill="rgb(85,85,85)" opacity="0.92" filter="url(#g3)"/>
<rect x="802.0" y="722.0" width="40.0" height="23.0" fill="rgb(60,60,60)" opacity="0.7" filter="url(#g3)"/>
<rect x="797.0" y="775.0" width="52.0" height="75.0" fill="rgb(0,0,0)" opacity="1" filter="url(#g3)"/>
<rect x="799.0" y="780.0" width="48.0" height="60.0" fill="rgb(0,0,0)" opacity="1" filter="url(#g2)"/>
<ellipse cx="822.0" cy="777.0" rx="34.0" ry="21.0" fill="rgb(0,0,0)" opacity="1" filter="url(#g3)"/>
<ellipse cx="822.0" cy="777.0" rx="29.0" ry="17.0" fill="rgb(0,0,0)" opacity="1" filter="url(#g2)"/>
<ellipse cx="822.0" cy="828.0" rx="28.0" ry="33.0" fill="rgb(0,0,0)" opacity="1" filter="url(#g3)"/>
<ellipse cx="822.0" cy="826.0" rx="24.0" ry="28.0" fill="rgb(0,0,0)" opacity="1" filter="url(#g2)"/>
<rect x="801.0" y="866.0" width="44.0" height="39.0" fill="rgb(70,70,70)" opacity="0.95" filter="url(#g3)"/>
<rect x="868.0" y="686.0" width="32.0" height="11.0" fill="rgb(190,190,190)" opacity="0.6" filter="url(#g3)"/>
<rect x="905.0" y="686.0" width="30.0" height="11.0" fill="rgb(190,190,190)" opacity="0.6" filter="url(#g3)"/>
<rect x="950.0" y="686.0" width="30.0" height="11.0" fill="rgb(190,190,190)" opacity="0.6" filter="url(#g3)"/>
<rect x="860.0" y="790.0" width="124.0" height="10.0" fill="rgb(200,200,200)" opacity="0.5" filter="url(#g3)"/>
</g>
<rect x="984.4" y="629.6" width="3.2" height="263.2" fill="#fff" />
<rect x="1136.5" y="629.6" width="3.7" height="263.2" fill="#fff" />
<rect x="1290.4" y="629.6" width="3.4" height="263.2" fill="#fff" />
<g clip-path="url(#ca)">
<clipPath id="ca2"><rect x="987.6" y="630.6" width="148.89999999999998" height="261.19999999999993"/></clipPath>
<g clip-path="url(#ca2)">
<rect x="996.0" y="773.0" width="37.0" height="12.0" fill="rgb(80,80,80)" opacity="0.9" filter="url(#g2)"/>
<rect x="996.0" y="818.0" width="37.0" height="11.0" fill="rgb(165,165,165)" opacity="0.8" filter="url(#g3)"/>
<rect x="996.0" y="686.0" width="36.0" height="11.0" fill="rgb(192,192,192)" opacity="0.8" filter="url(#g3)"/>
<rect x="995.0" y="790.0" width="39.0" height="70.0" fill="rgb(200,200,200)" opacity="0.5" filter="url(#g5)"/>
<rect x="1045.0" y="773.0" width="39.0" height="13.0" fill="rgb(65,65,65)" opacity="0.9" filter="url(#g2)"/>
<rect x="1045.0" y="818.0" width="39.0" height="12.0" fill="rgb(140,140,140)" opacity="0.8" filter="url(#g3)"/>
<rect x="1045.0" y="686.0" width="37.0" height="11.0" fill="rgb(190,190,190)" opacity="0.8" filter="url(#g3)"/>
<rect x="1046.0" y="795.0" width="36.0" height="17.0" fill="rgb(180,180,180)" opacity="0.6" filter="url(#g3)"/>
<rect x="1045.0" y="790.0" width="39.0" height="70.0" fill="rgb(195,195,195)" opacity="0.5" filter="url(#g5)"/>
<ellipse cx="1111.0" cy="790.0" rx="30.0" ry="45.0" fill="rgb(150,150,150)" opacity="0.3" filter="url(#g5)"/>
<rect x="1091.0" y="622.0" width="40.0" height="50.0" fill="rgb(160,160,160)" opacity="0.7" filter="url(#g3)"/>
<rect x="1093.0" y="686.0" width="36.0" height="10.0" fill="rgb(130,130,130)" opacity="0.8" filter="url(#g2)"/>
<rect x="1088.0" y="766.0" width="47.0" height="24.0" fill="rgb(0,0,0)" opacity="1" filter="url(#g2)"/>
<rect x="1092.0" y="768.0" width="40.0" height="20.0" fill="rgb(0,0,0)" opacity="1" filter="url(#g2)"/>
<rect x="1094.0" y="799.0" width="35.0" height="12.0" fill="rgb(90,90,90)" opacity="0.8" filter="url(#g2)"/>
<rect x="1093.0" y="815.0" width="37.0" height="17.0" fill="rgb(30,30,30)" opacity="0.9" filter="url(#g2)"/>
<rect x="1093.0" y="830.0" width="37.0" height="28.0" fill="rgb(105,105,105)" opacity="0.7" filter="url(#g3)"/>
<rect x="1094.0" y="866.0" width="35.0" height="34.0" fill="rgb(160,160,160)" opacity="0.7" filter="url(#g3)"/>
<rect x="1094.0" y="700.0" width="35.0" height="65.0" fill="rgb(180,180,180)" opacity="0.6" filter="url(#g3)"/>
</g>
<rect x="1146.0" y="761.0" width="39.0" height="12.0" fill="rgb(200,200,200)" opacity="0.8" filter="url(#g3)"/>
<rect x="1197.0" y="761.0" width="36.0" height="12.0" fill="rgb(200,200,200)" opacity="0.8" filter="url(#g3)"/>
<rect x="1245.0" y="760.0" width="39.0" height="14.0" fill="rgb(165,165,165)" opacity="0.85" filter="url(#g3)"/>
<rect x="1296.0" y="760.0" width="34.0" height="40.0" fill="rgb(208,208,208)" opacity="0.8" filter="url(#g5)"/>
<rect x="1140.0" y="790.0" width="150.0" height="10.0" fill="rgb(212,212,212)" opacity="0.5" filter="url(#g3)"/>
<rect x="742.5" y="630.6" width="645.0" height="261.2" fill="#000" filter="url(#gn)"/>
<rect x="742.5" y="630.6" width="645.0" height="261.2" fill="#000" filter="url(#gn2)"/>
</g>
<rect x="984.4" y="629.6" width="3.2" height="263.2" fill="#fff" />
<rect x="1136.5" y="629.6" width="3.7" height="263.2" fill="#fff" />
<rect x="1290.4" y="629.6" width="3.4" height="263.2" fill="#fff" />
<clipPath id="cc"><rect x="742.5" y="900.2" width="645.0" height="261.0"/></clipPath>
<clipPath id="cs0"><rect x="742.5" y="900.2" width="241.9" height="261.0"/></clipPath>
<g clip-path="url(#cs0)">
<rect x="742.5" y="900.2" width="241.9" height="261.0" fill="rgb(188,188,188)" />
<rect x="742.0" y="895.2" width="53.0" height="271.0" fill="rgb(208,208,208)" opacity="0.6" filter="url(#g2)"/>
<rect x="753.0" y="1000.0" width="33.0" height="15.0" fill="rgb(135,135,135)" opacity="0.7" filter="url(#g2)"/>
<rect x="753.0" y="1025.5" width="33.0" height="4.5" fill="rgb(135,135,135)" opacity="0.8" filter="url(#g1)"/>
<rect x="753.0" y="1064.5" width="33.0" height="6.0" fill="rgb(150,150,150)" opacity="0.7" filter="url(#g2)"/>
<rect x="753.0" y="950.0" width="33.0" height="40.0" fill="rgb(170,170,170)" opacity="0.4" filter="url(#g3)"/>
<rect x="799.0" y="895.2" width="36.0" height="271.0" fill="rgb(150,150,150)" opacity="0.6" filter="url(#g2)"/>
<rect x="800.0" y="955.0" width="34.0" height="180.0" fill="rgb(125,125,125)" opacity="0.3" filter="url(#g3)"/>
<rect x="799.0" y="1000.0" width="37.0" height="15.0" fill="rgb(95,95,95)" opacity="0.85" filter="url(#g2)"/>
<rect x="799.0" y="1026.0" width="37.0" height="5.0" fill="rgb(75,75,75)" opacity="0.9" filter="url(#g1)"/>
<rect x="799.0" y="1065.5" width="37.0" height="7.0" fill="rgb(105,105,105)" opacity="0.7" filter="url(#g2)"/>
<rect x="799.0" y="1079.5" width="37.0" height="6.0" fill="rgb(115,115,115)" opacity="0.6" filter="url(#g2)"/>
<rect x="799.0" y="1090.5" width="37.0" height="7.0" fill="rgb(100,100,100)" opacity="0.8" filter="url(#g2)"/>
<rect x="799.0" y="1152.0" width="37.0" height="14.0" fill="rgb(105,105,105)" opacity="0.75" filter="url(#g2)"/>
<rect x="799.0" y="905.0" width="37.0" height="85.0" fill="rgb(140,140,140)" opacity="0.4" filter="url(#g3)"/>
<rect x="799.0" y="1100.0" width="37.0" height="50.0" fill="rgb(150,150,150)" opacity="0.4" filter="url(#g3)"/>
<rect x="798.0" y="1041.5" width="40.0" height="16.0" rx="6" fill="#000" filter="url(#g1)"/>
<rect x="800.0" y="1043.0" width="36.0" height="13.0" rx="5" fill="#000" filter="url(#g05)"/>
<rect x="847.0" y="895.2" width="35.0" height="271.0" fill="rgb(158,158,158)" opacity="0.5" filter="url(#g2)"/>
<rect x="848.0" y="955.0" width="33.0" height="180.0" fill="rgb(133,133,133)" opacity="0.25" filter="url(#g3)"/>
<rect x="847.0" y="964.0" width="35.0" height="6.5" fill="rgb(135,135,135)" opacity="0.7" filter="url(#g2)"/>
<rect x="847.0" y="1027.0" width="35.0" height="6.5" fill="rgb(65,65,65)" opacity="0.92" filter="url(#g1)"/>
<rect x="847.0" y="1067.0" width="35.0" height="11.0" fill="rgb(125,125,125)" opacity="0.8" filter="url(#g2)"/>
<rect x="847.0" y="1048.0" width="35.0" height="15.0" fill="rgb(150,150,150)" opacity="0.5" filter="url(#g2)"/>
<rect x="847.0" y="1089.0" width="35.0" height="12.0" fill="rgb(150,150,150)" opacity="0.5" filter="url(#g2)"/>
<rect x="847.0" y="1105.0" width="35.0" height="8.0" fill="rgb(135,135,135)" opacity="0.65" filter="url(#g2)"/>
<rect x="847.0" y="1118.5" width="35.0" height="7.5" fill="rgb(95,95,95)" opacity="0.88" filter="url(#g1)"/>
<rect x="847.0" y="1139.0" width="35.0" height="10.0" fill="rgb(160,160,160)" opacity="0.5" filter="url(#g2)"/>
<rect x="894.7" y="895.2" width="34.9" height="271.0" fill="rgb(158,158,158)" opacity="0.5" filter="url(#g2)"/>
<rect x="895.7" y="955.0" width="32.9" height="180.0" fill="rgb(133,133,133)" opacity="0.25" filter="url(#g3)"/>
<rect x="894.7" y="964.0" width="34.9" height="6.5" fill="rgb(135,135,135)" opacity="0.7" filter="url(#g2)"/>
<rect x="894.7" y="1027.0" width="34.9" height="6.5" fill="rgb(65,65,65)" opacity="0.92" filter="url(#g1)"/>
<rect x="894.7" y="1067.0" width="34.9" height="11.0" fill="rgb(125,125,125)" opacity="0.8" filter="url(#g2)"/>
<rect x="894.7" y="1048.0" width="34.9" height="15.0" fill="rgb(150,150,150)" opacity="0.5" filter="url(#g2)"/>
<rect x="894.7" y="1089.0" width="34.9" height="12.0" fill="rgb(150,150,150)" opacity="0.5" filter="url(#g2)"/>
<rect x="894.7" y="1105.0" width="34.9" height="8.0" fill="rgb(135,135,135)" opacity="0.65" filter="url(#g2)"/>
<rect x="894.7" y="1118.5" width="34.9" height="7.5" fill="rgb(95,95,95)" opacity="0.88" filter="url(#g1)"/>
<rect x="894.7" y="1139.0" width="34.9" height="10.0" fill="rgb(160,160,160)" opacity="0.5" filter="url(#g2)"/>
<rect x="944.0" y="895.2" width="33.7" height="271.0" fill="rgb(158,158,158)" opacity="0.5" filter="url(#g2)"/>
<rect x="945.0" y="955.0" width="31.7" height="180.0" fill="rgb(133,133,133)" opacity="0.25" filter="url(#g3)"/>
<rect x="944.0" y="964.0" width="33.7" height="6.5" fill="rgb(135,135,135)" opacity="0.7" filter="url(#g2)"/>
<rect x="944.0" y="1027.0" width="33.7" height="6.5" fill="rgb(65,65,65)" opacity="0.92" filter="url(#g1)"/>
<rect x="944.0" y="1067.0" width="33.7" height="11.0" fill="rgb(125,125,125)" opacity="0.8" filter="url(#g2)"/>
<rect x="944.0" y="1048.0" width="33.7" height="15.0" fill="rgb(150,150,150)" opacity="0.5" filter="url(#g2)"/>
<rect x="944.0" y="1089.0" width="33.7" height="12.0" fill="rgb(150,150,150)" opacity="0.5" filter="url(#g2)"/>
<rect x="944.0" y="1105.0" width="33.7" height="8.0" fill="rgb(135,135,135)" opacity="0.65" filter="url(#g2)"/>
<rect x="944.0" y="1118.5" width="33.7" height="7.5" fill="rgb(95,95,95)" opacity="0.88" filter="url(#g1)"/>
<rect x="944.0" y="1139.0" width="33.7" height="10.0" fill="rgb(160,160,160)" opacity="0.5" filter="url(#g2)"/>
</g>
<clipPath id="cs1"><rect x="987.6" y="900.2" width="148.9" height="261.0"/></clipPath>
<g clip-path="url(#cs1)">
<rect x="987.6" y="900.2" width="148.9" height="261.0" fill="rgb(170,170,170)" />
<rect x="991.9" y="895.2" width="40.1" height="271.0" fill="rgb(138,138,138)" opacity="0.6" filter="url(#g2)"/>
<rect x="992.9" y="955.0" width="38.1" height="180.0" fill="rgb(113,113,113)" opacity="0.3" filter="url(#g3)"/>
<rect x="991.9" y="965.0" width="40.1" height="9.0" fill="rgb(125,125,125)" opacity="0.7" filter="url(#g2)"/>
<rect x="991.9" y="1029.5" width="40.1" height="7.0" fill="rgb(60,60,60)" opacity="0.92" filter="url(#g1)"/>
<rect x="991.9" y="1069.0" width="40.1" height="13.0" fill="rgb(105,105,105)" opacity="0.85" filter="url(#g2)"/>
<rect x="991.9" y="1091.0" width="40.1" height="9.0" fill="rgb(118,118,118)" opacity="0.75" filter="url(#g2)"/>
<rect x="991.9" y="1107.0" width="40.1" height="9.0" fill="rgb(118,118,118)" opacity="0.75" filter="url(#g2)"/>
<rect x="991.9" y="1121.5" width="40.1" height="6.5" fill="rgb(95,95,95)" opacity="0.85" filter="url(#g1)"/>
<rect x="991.9" y="1139.0" width="40.1" height="12.0" fill="rgb(145,145,145)" opacity="0.55" filter="url(#g2)"/>
<rect x="991.9" y="929.0" width="40.1" height="12.0" fill="rgb(150,150,150)" opacity="0.5" filter="url(#g2)"/>
<rect x="990.4" y="1044.5" width="44.1" height="15.0" rx="6" fill="#000" filter="url(#g1)"/>
<rect x="992.4" y="1046.0" width="40.1" height="12.0" rx="5" fill="#000" filter="url(#g05)"/>
<rect x="1042.4" y="895.2" width="40.1" height="271.0" fill="rgb(138,138,138)" opacity="0.6" filter="url(#g2)"/>
<rect x="1043.4" y="955.0" width="38.1" height="180.0" fill="rgb(113,113,113)" opacity="0.3" filter="url(#g3)"/>
<rect x="1042.4" y="965.0" width="40.1" height="9.0" fill="rgb(125,125,125)" opacity="0.7" filter="url(#g2)"/>
<rect x="1042.4" y="1029.5" width="40.1" height="7.0" fill="rgb(60,60,60)" opacity="0.92" filter="url(#g1)"/>
<rect x="1042.4" y="1069.0" width="40.1" height="13.0" fill="rgb(105,105,105)" opacity="0.85" filter="url(#g2)"/>
<rect x="1042.4" y="1091.0" width="40.1" height="9.0" fill="rgb(118,118,118)" opacity="0.75" filter="url(#g2)"/>
<rect x="1042.4" y="1107.0" width="40.1" height="9.0" fill="rgb(118,118,118)" opacity="0.75" filter="url(#g2)"/>
<rect x="1042.4" y="1121.5" width="40.1" height="6.5" fill="rgb(95,95,95)" opacity="0.85" filter="url(#g1)"/>
<rect x="1042.4" y="1139.0" width="40.1" height="12.0" fill="rgb(145,145,145)" opacity="0.55" filter="url(#g2)"/>
<rect x="1042.4" y="929.0" width="40.1" height="12.0" fill="rgb(150,150,150)" opacity="0.5" filter="url(#g2)"/>
<rect x="1040.9" y="1044.5" width="44.1" height="15.0" rx="6" fill="#000" filter="url(#g1)"/>
<rect x="1042.9" y="1046.0" width="40.1" height="12.0" rx="5" fill="#000" filter="url(#g05)"/>
<rect x="1091.4" y="895.2" width="37.1" height="271.0" fill="rgb(138,138,138)" opacity="0.6" filter="url(#g2)"/>
<rect x="1092.4" y="955.0" width="35.1" height="180.0" fill="rgb(113,113,113)" opacity="0.3" filter="url(#g3)"/>
<rect x="1091.4" y="965.0" width="37.1" height="9.0" fill="rgb(125,125,125)" opacity="0.7" filter="url(#g2)"/>
<rect x="1091.4" y="1029.5" width="37.1" height="7.0" fill="rgb(60,60,60)" opacity="0.92" filter="url(#g1)"/>
<rect x="1091.4" y="1069.0" width="37.1" height="13.0" fill="rgb(105,105,105)" opacity="0.85" filter="url(#g2)"/>
<rect x="1091.4" y="1091.0" width="37.1" height="9.0" fill="rgb(118,118,118)" opacity="0.75" filter="url(#g2)"/>
<rect x="1091.4" y="1107.0" width="37.1" height="9.0" fill="rgb(118,118,118)" opacity="0.75" filter="url(#g2)"/>
<rect x="1091.4" y="1121.5" width="37.1" height="6.5" fill="rgb(95,95,95)" opacity="0.85" filter="url(#g1)"/>
<rect x="1091.4" y="1139.0" width="37.1" height="12.0" fill="rgb(145,145,145)" opacity="0.55" filter="url(#g2)"/>
<rect x="1091.4" y="929.0" width="37.1" height="12.0" fill="rgb(150,150,150)" opacity="0.5" filter="url(#g2)"/>
<rect x="1089.9" y="1044.5" width="41.1" height="15.0" rx="6" fill="#000" filter="url(#g1)"/>
<rect x="1091.9" y="1046.0" width="37.1" height="12.0" rx="5" fill="#000" filter="url(#g05)"/>
</g>
<clipPath id="cs2"><rect x="1140.2" y="900.2" width="150.2" height="261.0"/></clipPath>
<g clip-path="url(#cs2)">
<rect x="1140.2" y="900.2" width="150.2" height="261.0" fill="rgb(175,175,175)" />
<rect x="1144.8" y="895.2" width="40.1" height="271.0" fill="rgb(142,142,142)" opacity="0.55" filter="url(#g2)"/>
<rect x="1145.8" y="955.0" width="38.1" height="180.0" fill="rgb(117,117,117)" opacity="0.275" filter="url(#g3)"/>
<rect x="1144.8" y="934.0" width="40.1" height="7.0" fill="rgb(145,145,145)" opacity="0.65" filter="url(#g2)"/>
<rect x="1144.8" y="964.0" width="40.1" height="9.5" fill="rgb(85,85,85)" opacity="0.9" filter="url(#g2)"/>
<rect x="1144.8" y="1004.5" width="40.1" height="4.0" fill="rgb(150,150,150)" opacity="0.6" filter="url(#g1)"/>
<rect x="1144.8" y="1013.5" width="40.1" height="4.0" fill="rgb(150,150,150)" opacity="0.6" filter="url(#g1)"/>
<rect x="1144.8" y="1028.0" width="40.1" height="9.0" fill="rgb(55,55,55)" opacity="0.93" filter="url(#g1)"/>
<rect x="1144.8" y="1040.5" width="40.1" height="4.0" fill="rgb(135,135,135)" opacity="0.6" filter="url(#g1)"/>
<rect x="1144.8" y="1068.0" width="40.1" height="14.0" fill="rgb(105,105,105)" opacity="0.88" filter="url(#g2)"/>
<rect x="1144.8" y="1093.0" width="40.1" height="7.0" fill="rgb(150,150,150)" opacity="0.55" filter="url(#g2)"/>
<rect x="1144.8" y="1106.5" width="40.1" height="9.0" fill="rgb(122,122,122)" opacity="0.75" filter="url(#g2)"/>
<rect x="1144.8" y="1121.5" width="40.1" height="6.5" fill="rgb(88,88,88)" opacity="0.88" filter="url(#g1)"/>
<rect x="1144.8" y="1139.0" width="40.1" height="12.0" fill="rgb(155,155,155)" opacity="0.5" filter="url(#g2)"/>
<rect x="1195.3" y="895.2" width="40.1" height="271.0" fill="rgb(142,142,142)" opacity="0.55" filter="url(#g2)"/>
<rect x="1196.3" y="955.0" width="38.1" height="180.0" fill="rgb(117,117,117)" opacity="0.275" filter="url(#g3)"/>
<rect x="1195.3" y="934.0" width="40.1" height="7.0" fill="rgb(145,145,145)" opacity="0.65" filter="url(#g2)"/>
<rect x="1195.3" y="964.0" width="40.1" height="9.5" fill="rgb(85,85,85)" opacity="0.9" filter="url(#g2)"/>
<rect x="1195.3" y="1004.5" width="40.1" height="4.0" fill="rgb(150,150,150)" opacity="0.6" filter="url(#g1)"/>
<rect x="1195.3" y="1013.5" width="40.1" height="4.0" fill="rgb(150,150,150)" opacity="0.6" filter="url(#g1)"/>
<rect x="1195.3" y="1028.0" width="40.1" height="9.0" fill="rgb(55,55,55)" opacity="0.93" filter="url(#g1)"/>
<rect x="1195.3" y="1040.5" width="40.1" height="4.0" fill="rgb(135,135,135)" opacity="0.6" filter="url(#g1)"/>
<rect x="1195.3" y="1068.0" width="40.1" height="14.0" fill="rgb(105,105,105)" opacity="0.88" filter="url(#g2)"/>
<rect x="1195.3" y="1093.0" width="40.1" height="7.0" fill="rgb(150,150,150)" opacity="0.55" filter="url(#g2)"/>
<rect x="1195.3" y="1106.5" width="40.1" height="9.0" fill="rgb(122,122,122)" opacity="0.75" filter="url(#g2)"/>
<rect x="1195.3" y="1121.5" width="40.1" height="6.5" fill="rgb(88,88,88)" opacity="0.88" filter="url(#g1)"/>
<rect x="1195.3" y="1139.0" width="40.1" height="12.0" fill="rgb(155,155,155)" opacity="0.5" filter="url(#g2)"/>
<rect x="1245.8" y="895.2" width="38.6" height="271.0" fill="rgb(142,142,142)" opacity="0.55" filter="url(#g2)"/>
<rect x="1246.8" y="955.0" width="36.6" height="180.0" fill="rgb(117,117,117)" opacity="0.275" filter="url(#g3)"/>
<rect x="1245.8" y="934.0" width="38.6" height="7.0" fill="rgb(145,145,145)" opacity="0.65" filter="url(#g2)"/>
<rect x="1245.8" y="964.0" width="38.6" height="9.5" fill="rgb(85,85,85)" opacity="0.9" filter="url(#g2)"/>
<rect x="1245.8" y="1004.5" width="38.6" height="4.0" fill="rgb(150,150,150)" opacity="0.6" filter="url(#g1)"/>
<rect x="1245.8" y="1013.5" width="38.6" height="4.0" fill="rgb(150,150,150)" opacity="0.6" filter="url(#g1)"/>
<rect x="1245.8" y="1028.0" width="38.6" height="9.0" fill="rgb(55,55,55)" opacity="0.93" filter="url(#g1)"/>
<rect x="1245.8" y="1040.5" width="38.6" height="4.0" fill="rgb(135,135,135)" opacity="0.6" filter="url(#g1)"/>
<rect x="1245.8" y="1068.0" width="38.6" height="14.0" fill="rgb(105,105,105)" opacity="0.88" filter="url(#g2)"/>
<rect x="1245.8" y="1093.0" width="38.6" height="7.0" fill="rgb(150,150,150)" opacity="0.55" filter="url(#g2)"/>
<rect x="1245.8" y="1106.5" width="38.6" height="9.0" fill="rgb(122,122,122)" opacity="0.75" filter="url(#g2)"/>
<rect x="1245.8" y="1121.5" width="38.6" height="6.5" fill="rgb(88,88,88)" opacity="0.88" filter="url(#g1)"/>
<rect x="1245.8" y="1139.0" width="38.6" height="12.0" fill="rgb(155,155,155)" opacity="0.5" filter="url(#g2)"/>
</g>
<clipPath id="cs3"><rect x="1293.8" y="900.2" width="93.7" height="261.0"/></clipPath>
<g clip-path="url(#cs3)">
<rect x="1293.8" y="900.2" width="93.7" height="261.0" fill="rgb(210,210,210)" />
<rect x="1295.0" y="900.0" width="45.0" height="262.0" fill="rgb(192,192,192)" opacity="0.6" filter="url(#g3)"/>
<rect x="1296.0" y="1043.0" width="39.0" height="16.5" rx="6" fill="#000" filter="url(#g1)"/>
<rect x="1298.0" y="1044.5" width="35.0" height="13.5" rx="5" fill="#000" filter="url(#g05)"/>
<rect x="1298.0" y="1026.5" width="32.0" height="4.0" fill="rgb(150,150,150)" opacity="0.6" filter="url(#g1)"/>
<rect x="1298.0" y="1084.5" width="32.0" height="6.0" fill="rgb(140,140,140)" opacity="0.6" filter="url(#g2)"/>
<rect x="1298.0" y="1094.5" width="32.0" height="7.0" fill="rgb(128,128,128)" opacity="0.7" filter="url(#g2)"/>
<rect x="1343.0" y="1024.5" width="45.0" height="5.0" fill="rgb(165,165,165)" opacity="0.7" filter="url(#g1)"/>
<rect x="1343.0" y="1034.5" width="45.0" height="6.0" fill="rgb(155,155,155)" opacity="0.7" filter="url(#g1)"/>
<path d="M1302 900 C1312 960 1326 1040 1324 1090 C1322 1130 1318 1150 1316 1162" fill="none" stroke="#ececec" stroke-width="1.6" opacity="0.9"/>
</g>
<g clip-path="url(#cc)">
<rect x="742.5" y="900.2" width="645.0" height="261.0" fill="#000" filter="url(#gn)"/>
<rect x="742.5" y="900.2" width="645.0" height="261.0" fill="#000" filter="url(#gn2)"/>
</g>
<rect x="984.4" y="899.2" width="3.2" height="263.0" fill="#fff" />
<rect x="1136.5" y="899.2" width="3.7" height="263.0" fill="#fff" />
<rect x="1290.4" y="899.2" width="3.4" height="263.0" fill="#fff" />
<text x="595.5" y="694.2" font-size="23.5" textLength="103.0" lengthAdjust="spacingAndGlyphs" class="t" fill="#0c0c0c" >GST-PAX</text>
<line x1="719.3" y1="684.4" x2="731.3" y2="684.4" stroke="#8c8c8c" stroke-width="1.2" />
<path d="M729.8 681.0 L739.1 684.4 L729.8 687.8 Z" fill="#8c8c8c"/>
<text x="595.5" y="742.0" font-size="23.5" textLength="118.0" lengthAdjust="spacingAndGlyphs" class="t" fill="#0c0c0c" >GST-D6PK</text>
<line x1="717.5" y1="732.8" x2="729.5" y2="732.8" stroke="#8c8c8c" stroke-width="1.2" />
<path d="M728.0 729.4 L737.3 732.8 L728.0 736.2 Z" fill="#8c8c8c"/>
<text x="595.5" y="765.4" font-size="23.5" textLength="104.0" lengthAdjust="spacingAndGlyphs" class="t" fill="#0c0c0c" >GST-BRX</text>
<line x1="719.3" y1="761.3" x2="731.3" y2="761.3" stroke="#8c8c8c" stroke-width="1.2" />
<path d="M729.8 757.9 L739.1 761.3 L729.8 764.7 Z" fill="#8c8c8c"/>
<text x="595.5" y="790.5" font-size="23.5" textLength="111.0" lengthAdjust="spacingAndGlyphs" class="t" fill="#0c0c0c" >GST-PIN1</text>
<line x1="719.3" y1="776.5" x2="731.3" y2="776.5" stroke="#8c8c8c" stroke-width="1.2" />
<path d="M729.8 773.1 L739.1 776.5 L729.8 779.9 Z" fill="#8c8c8c"/>
<text x="595.5" y="971.3" font-size="23.5" textLength="103.0" lengthAdjust="spacingAndGlyphs" class="t" fill="#0c0c0c" >GST-PAX</text>
<line x1="719.3" y1="962.6" x2="731.3" y2="962.6" stroke="#8c8c8c" stroke-width="1.2" />
<path d="M729.8 959.2 L739.1 962.6 L729.8 966.0 Z" fill="#8c8c8c"/>
<text x="595.5" y="1020.8" font-size="23.5" textLength="118.0" lengthAdjust="spacingAndGlyphs" class="t" fill="#0c0c0c" >GST-D6PK</text>
<line x1="717.5" y1="1012.1" x2="729.5" y2="1012.1" stroke="#8c8c8c" stroke-width="1.2" />
<path d="M728.0 1008.7 L737.3 1012.1 L728.0 1015.5 Z" fill="#8c8c8c"/>
<text x="595.5" y="1045.3" font-size="23.5" textLength="104.0" lengthAdjust="spacingAndGlyphs" class="t" fill="#0c0c0c" >GST-BRX</text>
<line x1="719.3" y1="1038.9" x2="731.3" y2="1038.9" stroke="#8c8c8c" stroke-width="1.2" />
<path d="M729.8 1035.5 L739.1 1038.9 L729.8 1042.3 Z" fill="#8c8c8c"/>
<text x="595.5" y="1069.8" font-size="23.5" textLength="111.0" lengthAdjust="spacingAndGlyphs" class="t" fill="#0c0c0c" >GST-PIN1</text>
<line x1="719.3" y1="1054.1" x2="731.3" y2="1054.1" stroke="#8c8c8c" stroke-width="1.2" />
<path d="M729.8 1050.7 L739.1 1054.1 L729.8 1057.5 Z" fill="#8c8c8c"/>
<text x="1409.0" y="765.5" font-size="24" text-anchor="middle" transform="rotate(-90 1409.0 765.5)" textLength="172.0" lengthAdjust="spacingAndGlyphs" class="t" fill="#0c0c0c" >autoradiograph</text>
<text x="1409.0" y="1029.0" font-size="24" text-anchor="middle" transform="rotate(-90 1409.0 1029.0)" textLength="178.0" lengthAdjust="spacingAndGlyphs" class="t" fill="#0c0c0c" >Coomassie blue</text>
<text x="-0.5" y="1196.0" font-size="33" font-weight="bold" class="n" fill="#000" >f</text>
<line x1="54.3" y1="1205.5" x2="456.3" y2="1205.5" stroke="#dde3e6" stroke-width="1.2" stroke-dasharray="17 12.4"/>
<line x1="54.3" y1="1364.2" x2="456.3" y2="1364.2" stroke="#dde3e6" stroke-width="1.2" stroke-dasharray="17 12.4"/>
<line x1="54.3" y1="1521.7" x2="456.3" y2="1521.7" stroke="#dcdcdc" stroke-width="1.2" />
<line x1="54.3" y1="1521.7" x2="54.3" y2="1527.0" stroke="#dcdcdc" stroke-width="1.2" />
<line x1="154.5" y1="1521.7" x2="154.5" y2="1527.0" stroke="#dcdcdc" stroke-width="1.2" />
<line x1="255.0" y1="1521.7" x2="255.0" y2="1527.0" stroke="#dcdcdc" stroke-width="1.2" />
<line x1="355.8" y1="1521.7" x2="355.8" y2="1527.0" stroke="#dcdcdc" stroke-width="1.2" />
<line x1="456.3" y1="1521.7" x2="456.3" y2="1527.0" stroke="#dcdcdc" stroke-width="1.2" />
<text x="42.4" y="1214.3" font-size="24" text-anchor="end" textLength="33.0" lengthAdjust="spacingAndGlyphs" class="t" fill="#0c0c0c" >1.0</text>
<text x="42.4" y="1531.0" font-size="24" text-anchor="end" textLength="33.0" lengthAdjust="spacingAndGlyphs" class="t" fill="#0c0c0c" >0.6</text>
<text x="30.0" y="1366.0" font-size="25" text-anchor="middle" transform="rotate(-90 30.0 1366.0)" textLength="233.0" lengthAdjust="spacingAndGlyphs" class="t" fill="#0c0c0c" >rel. auxin retention</text>
<line x1="104.1" y1="1205.5" x2="104.1" y2="1218.9" stroke="#7d7d7d" stroke-width="1.2" />
<line x1="100.5" y1="1216.7" x2="107.7" y2="1216.7" stroke="#7d7d7d" stroke-width="1.2" />
<line x1="100.5" y1="1218.9" x2="107.7" y2="1218.9" stroke="#7d7d7d" stroke-width="1.2" />
<line x1="205.2" y1="1255.6" x2="205.2" y2="1327.2" stroke="#7d7d7d" stroke-width="1.2" />
<line x1="201.6" y1="1255.6" x2="208.8" y2="1255.6" stroke="#7d7d7d" stroke-width="1.2" />
<line x1="201.6" y1="1282.7" x2="208.8" y2="1282.7" stroke="#7d7d7d" stroke-width="1.2" />
<line x1="201.6" y1="1308.2" x2="208.8" y2="1308.2" stroke="#7d7d7d" stroke-width="1.2" />
<line x1="201.6" y1="1324.7" x2="208.8" y2="1324.7" stroke="#7d7d7d" stroke-width="1.2" />
<line x1="201.6" y1="1327.2" x2="208.8" y2="1327.2" stroke="#7d7d7d" stroke-width="1.2" />
<line x1="305.4" y1="1297.6" x2="305.4" y2="1358.3" stroke="#7d7d7d" stroke-width="1.2" />
<line x1="301.8" y1="1297.6" x2="309.0" y2="1297.6" stroke="#7d7d7d" stroke-width="1.2" />
<line x1="301.8" y1="1328.4" x2="309.0" y2="1328.4" stroke="#7d7d7d" stroke-width="1.2" />
<line x1="301.8" y1="1358.3" x2="309.0" y2="1358.3" stroke="#7d7d7d" stroke-width="1.2" />
<line x1="305.4" y1="1366.1" x2="305.4" y2="1392.8" stroke="#7d7d7d" stroke-width="1.2" />
<line x1="301.8" y1="1366.1" x2="309.0" y2="1366.1" stroke="#7d7d7d" stroke-width="1.2" />
<line x1="301.8" y1="1392.8" x2="309.0" y2="1392.8" stroke="#7d7d7d" stroke-width="1.2" />
<line x1="405.9" y1="1345.9" x2="405.9" y2="1402.5" stroke="#7d7d7d" stroke-width="1.2" />
<line x1="402.3" y1="1345.9" x2="409.5" y2="1345.9" stroke="#7d7d7d" stroke-width="1.2" />
<line x1="402.3" y1="1402.5" x2="409.5" y2="1402.5" stroke="#7d7d7d" stroke-width="1.2" />
<line x1="405.9" y1="1443.3" x2="405.9" y2="1469.7" stroke="#7d7d7d" stroke-width="1.2" />
<line x1="402.3" y1="1443.3" x2="409.5" y2="1443.3" stroke="#7d7d7d" stroke-width="1.2" />
<line x1="402.3" y1="1469.7" x2="409.5" y2="1469.7" stroke="#7d7d7d" stroke-width="1.2" />
<line x1="405.9" y1="1482.8" x2="405.9" y2="1521.7" stroke="#7d7d7d" stroke-width="1.2" />
<line x1="402.3" y1="1482.8" x2="409.5" y2="1482.8" stroke="#7d7d7d" stroke-width="1.2" />
<polyline points="104.1,1205.5 205.2,1316.9 305.4,1379.5 405.9,1502.4" fill="none" stroke="#d3d800" stroke-width="1.3"/>
<polyline points="104.1,1205.5 205.2,1270.2 305.4,1314.1 405.9,1374.2" fill="none" stroke="#7cc8c2" stroke-width="1.3"/>
<polyline points="104.1,1205.5 205.2,1298.2 305.4,1336.5 405.9,1456.3" fill="none" stroke="#e84e0f" stroke-width="1.3"/>
<path d="M100.9 1205.5 L104.1 1202.3 L107.3 1205.5 L104.1 1208.7 Z" fill="#e84e0f"/>
<path d="M202.0 1298.2 L205.2 1295.0 L208.4 1298.2 L205.2 1301.4 Z" fill="#e84e0f"/>
<path d="M302.2 1336.5 L305.4 1333.3 L308.6 1336.5 L305.4 1339.7 Z" fill="#e84e0f"/>
<path d="M402.7 1456.3 L405.9 1453.1 L409.1 1456.3 L405.9 1459.5 Z" fill="#e84e0f"/>
<path d="M100.9 1205.5 L104.1 1202.3 L107.3 1205.5 L104.1 1208.7 Z" fill="#7cc8c2"/>
<path d="M202.0 1270.2 L205.2 1267.0 L208.4 1270.2 L205.2 1273.4 Z" fill="#7cc8c2"/>
<path d="M302.2 1314.1 L305.4 1310.9 L308.6 1314.1 L305.4 1317.3 Z" fill="#7cc8c2"/>
<path d="M402.7 1374.2 L405.9 1371.0 L409.1 1374.2 L405.9 1377.4 Z" fill="#7cc8c2"/>
<path d="M100.9 1205.5 L104.1 1202.3 L107.3 1205.5 L104.1 1208.7 Z" fill="#d3d800"/>
<path d="M202.0 1316.9 L205.2 1313.7 L208.4 1316.9 L205.2 1320.1 Z" fill="#d3d800"/>
<path d="M302.2 1379.5 L305.4 1376.3 L308.6 1379.5 L305.4 1382.7 Z" fill="#d3d800"/>
<path d="M402.7 1502.4 L405.9 1499.2 L409.1 1502.4 L405.9 1505.6 Z" fill="#d3d800"/>
<text x="49.3" y="1382.3" font-size="25" textLength="86.5" lengthAdjust="spacingAndGlyphs" class="t" fill="#0c0c0c" >oocytes</text>
<text x="49.3" y="1411.8" font-size="25" textLength="128.5" lengthAdjust="spacingAndGlyphs" class="t" fill="#0c0c0c" >expressing:</text>
<rect x="50.5" y="1425.2" width="20.0" height="19.3" fill="#d3d800" />
<text x="77.3" y="1444.0" font-size="25" textLength="139.5" lengthAdjust="spacingAndGlyphs" class="t" fill="#0c0c0c" >PIN1 + D6PK</text>
<rect x="50.5" y="1456.3" width="20.0" height="19.3" fill="#7cc8c2" />
<text x="77.3" y="1474.7" font-size="25" textLength="124.0" lengthAdjust="spacingAndGlyphs" class="t" fill="#0c0c0c" >PIN1 + PAX</text>
<rect x="50.5" y="1486.5" width="20.0" height="19.3" fill="#e84e0f" />
<text x="77.3" y="1505.2" class="t" fill="#0c0c0c" font-size="25" textLength="189" lengthAdjust="spacingAndGlyphs">PIN1 + PAX<tspan font-size="21.5" dy="-6.5">S596D</tspan></text>
<text x="104.7" y="1545.6" font-size="25" text-anchor="middle" class="t" fill="#0c0c0c" >0</text>
<text x="206.9" y="1545.6" font-size="25" text-anchor="middle" textLength="85.0" lengthAdjust="spacingAndGlyphs" class="t" fill="#0c0c0c" >7.5 min.</text>
<text x="307.4" y="1545.6" font-size="25" text-anchor="middle" textLength="77.0" lengthAdjust="spacingAndGlyphs" class="t" fill="#0c0c0c" >15 min.</text>
<text x="405.4" y="1545.6" font-size="25" text-anchor="middle" textLength="80.0" lengthAdjust="spacingAndGlyphs" class="t" fill="#0c0c0c" >30 min.</text>
<text x="470.5" y="1193.3" font-size="33" font-weight="bold" class="n" fill="#000" >g</text>
<rect x="521.3" y="1191.7" width="46.6" height="353.9" fill="#030603" />
<ellipse cx="546" cy="1213.2" rx="3.6" ry="2.6" fill="#22c32a" opacity="0.25" filter="url(#b1)"/>
<ellipse cx="546" cy="1247.9" rx="3.6" ry="2.6" fill="#22c32a" opacity="0.5" filter="url(#b1)"/>
<ellipse cx="546" cy="1268.4" rx="3.6" ry="2.6" fill="#22c32a" opacity="0.7" filter="url(#b1)"/>
<ellipse cx="546" cy="1268.4" rx="2.2" ry="1.5" fill="#35e03a" opacity="0.7" filter="url(#b05)"/>
<ellipse cx="546" cy="1287.1" rx="3.6" ry="2.6" fill="#22c32a" opacity="1" filter="url(#b1)"/>
<ellipse cx="546" cy="1287.1" rx="2.2" ry="1.5" fill="#35e03a" opacity="1" filter="url(#b05)"/>
<ellipse cx="546" cy="1307.2" rx="3.6" ry="2.6" fill="#22c32a" opacity="0.75" filter="url(#b1)"/>
<ellipse cx="546" cy="1307.2" rx="2.2" ry="1.5" fill="#35e03a" opacity="0.75" filter="url(#b05)"/>
<ellipse cx="546" cy="1328.7" rx="3.6" ry="2.6" fill="#22c32a" opacity="1" filter="url(#b1)"/>
<ellipse cx="546" cy="1328.7" rx="2.2" ry="1.5" fill="#35e03a" opacity="1" filter="url(#b05)"/>
<ellipse cx="546" cy="1350.8" rx="3.6" ry="2.6" fill="#22c32a" opacity="0.75" filter="url(#b1)"/>
<ellipse cx="546" cy="1350.8" rx="2.2" ry="1.5" fill="#35e03a" opacity="0.75" filter="url(#b05)"/>
<ellipse cx="546" cy="1374.9" rx="3.6" ry="2.6" fill="#22c32a" opacity="1" filter="url(#b1)"/>
<ellipse cx="546" cy="1374.9" rx="2.2" ry="1.5" fill="#35e03a" opacity="1" filter="url(#b05)"/>
<ellipse cx="546" cy="1394.9" rx="3.6" ry="2.6" fill="#22c32a" opacity="0.7" filter="url(#b1)"/>
<ellipse cx="546" cy="1394.9" rx="2.2" ry="1.5" fill="#35e03a" opacity="0.7" filter="url(#b05)"/>
<ellipse cx="546" cy="1414.0" rx="3.6" ry="2.6" fill="#22c32a" opacity="0.4" filter="url(#b1)"/>
<ellipse cx="546" cy="1433.1" rx="3.6" ry="2.6" fill="#22c32a" opacity="0.22" filter="url(#b1)"/>
<ellipse cx="546" cy="1454.2" rx="3.6" ry="2.6" fill="#22c32a" opacity="0.75" filter="url(#b1)"/>
<ellipse cx="546" cy="1454.2" rx="2.2" ry="1.5" fill="#35e03a" opacity="0.75" filter="url(#b05)"/>
<ellipse cx="546" cy="1489.7" rx="3.6" ry="2.6" fill="#22c32a" opacity="1" filter="url(#b1)"/>
<ellipse cx="546" cy="1489.7" rx="2.2" ry="1.5" fill="#35e03a" opacity="1" filter="url(#b05)"/>
<ellipse cx="546" cy="1525.5" rx="3.6" ry="2.6" fill="#22c32a" opacity="0.2" filter="url(#b1)"/>
<text x="510.2" y="1528.5" transform="rotate(-90 510.2 1528.5)" class="t" fill="#0c0c0c" font-size="23.5" font-style="italic" textLength="333.5" lengthAdjust="spacingAndGlyphs">PAX::PAX<tspan font-size="19" dy="-7.5">S596D</tspan><tspan dy="7.5">-CITRINE</tspan><tspan font-style="normal"> in </tspan>pax</text>
<text x="205.5" y="1591.5" font-size="33" font-weight="bold" class="n" fill="#000" >i</text>
<defs><linearGradient id="bgi" x1="0" x2="1" y1="0" y2="0"><stop offset="0" stop-color="#04142a"/><stop offset="0.5" stop-color="#082342"/><stop offset="1" stop-color="#04142a"/></linearGradient></defs>
<clipPath id="ci"><rect x="239" y="1587.6" width="42.4" height="353"/></clipPath>
<rect x="239.0" y="1587.6" width="42.4" height="353.0" fill="url(#bgi)" />
<g clip-path="url(#ci)">
<rect x="239" y="1587.6" width="42.4" height="353" fill="#000" filter="url(#bn)" opacity="0.45"/>
<ellipse cx="261.1" cy="1606.3" rx="10.7" ry="2.3" fill="#52d9a0" opacity="1" filter="url(#b08)" transform="rotate(3 261.1 1606.3)"/>
<ellipse cx="261.1" cy="1606.3" rx="7.3" ry="1.1" fill="#c8f264" filter="url(#b04)" transform="rotate(3 261.1 1606.3)"/>
<ellipse cx="261.1" cy="1643.8" rx="9.7" ry="2.3" fill="#52d9a0" opacity="1" filter="url(#b08)" transform="rotate(3 261.1 1643.8)"/>
<ellipse cx="261.1" cy="1643.8" rx="6.6" ry="1.1" fill="#c8f264" filter="url(#b04)" transform="rotate(3 261.1 1643.8)"/>
<ellipse cx="262.0" cy="1683.2" rx="9.2" ry="2.3" fill="#52d9a0" opacity="1" filter="url(#b08)"/>
<ellipse cx="262.0" cy="1683.2" rx="6.2" ry="1.1" fill="#c8f264" filter="url(#b04)"/>
<ellipse cx="261.1" cy="1720.7" rx="8.7" ry="2.1" fill="#3fc0b0" opacity="0.9" filter="url(#b08)" transform="rotate(10 261.1 1720.7)"/>
<ellipse cx="261.1" cy="1720.7" rx="5.8" ry="0.9" fill="#7fe268" filter="url(#b04)" transform="rotate(10 261.1 1720.7)"/>
<ellipse cx="263.0" cy="1761.5" rx="9.7" ry="2.3" fill="#52d9a0" opacity="1" filter="url(#b08)"/>
<ellipse cx="263.0" cy="1761.5" rx="6.6" ry="1.1" fill="#c8f264" filter="url(#b04)"/>
<ellipse cx="263.0" cy="1799.0" rx="9.7" ry="2.3" fill="#52d9a0" opacity="1" filter="url(#b08)"/>
<ellipse cx="263.0" cy="1799.0" rx="6.6" ry="1.1" fill="#c8f264" filter="url(#b04)"/>
<ellipse cx="264.0" cy="1836.5" rx="7.7" ry="1.6" fill="#2a86b4" opacity="0.65" filter="url(#b08)" transform="rotate(-5 264.0 1836.5)"/>
<ellipse cx="263.0" cy="1877.5" rx="8.2" ry="2.3" fill="#52d9a0" opacity="1" filter="url(#b08)" transform="rotate(14 263.0 1877.5)"/>
<ellipse cx="263.0" cy="1877.5" rx="5.5" ry="1.1" fill="#c8f264" filter="url(#b04)" transform="rotate(14 263.0 1877.5)"/>
<ellipse cx="263.0" cy="1929.7" rx="9.2" ry="2.3" fill="#52d9a0" opacity="1" filter="url(#b08)" transform="rotate(6 263.0 1929.7)"/>
<ellipse cx="263.0" cy="1929.7" rx="6.2" ry="1.1" fill="#c8f264" filter="url(#b04)" transform="rotate(6 263.0 1929.7)"/>
</g>
<text x="231.1" y="1915" transform="rotate(-90 231.1 1915)" class="t" fill="#0c0c0c" font-size="24.5" font-style="italic" textLength="301" lengthAdjust="spacingAndGlyphs">PAX::D6PK-CITRINE<tspan font-style="normal"> in </tspan>pax</text>
<text x="306.5" y="1592.5" font-size="33" font-weight="bold" class="n" fill="#000" >j</text>
<defs><filter id="nz" x="0" y="0" width="100%" height="100%"><feTurbulence type="fractalNoise" baseFrequency="0.85" numOctaves="2" seed="3" result="n"/><feColorMatrix in="n" type="matrix" values="0 0 0 0 0  0 0 0 0 0  0 0 0 0 0  1.1 0 0 0 -0.27"/></filter><filter id="nz2" x="0" y="0" width="100%" height="100%"><feTurbulence type="fractalNoise" baseFrequency="0.09" numOctaves="2" seed="11" result="n"/><feColorMatrix in="n" type="matrix" values="0 0 0 0 0  0 0 0 0 0  0 0 0 0 0  1.3 0 0 0 -0.42"/></filter><filter id="j2" x="-80%" y="-80%" width="260%" height="260%"><feGaussianBlur stdDeviation="1.6"/></filter><filter id="j4" x="-80%" y="-80%" width="260%" height="260%"><feGaussianBlur stdDeviation="3"/></filter></defs>
<clipPath id="cj0"><rect x="349.9" y="1566.9" width="46.7" height="353.8"/></clipPath>
<rect x="349.9" y="1566.9" width="46.7" height="353.8" fill="#5e5b0b" />
<g clip-path="url(#cj0)">
<rect x="361.2" y="1566.9" width="24" height="353.8" fill="#8a860f" opacity="0.35" filter="url(#j4)"/>
<rect x="349.9" y="1566.9" width="46.7" height="353.8" fill="#000" filter="url(#nz2)"/>
<circle cx="369.6" cy="1582.7" r="6" fill="#c4be1a" opacity="0.48" filter="url(#j4)"/>
<circle cx="369.6" cy="1582.7" r="3.6" fill="#f4ec24" opacity="0.70" filter="url(#j2)"/>
<circle cx="379.4" cy="1607.3" r="6" fill="#c4be1a" opacity="0.48" filter="url(#j4)"/>
<circle cx="379.4" cy="1607.3" r="3.6" fill="#f4ec24" opacity="0.70" filter="url(#j2)"/>
<circle cx="365.6" cy="1621.1" r="6" fill="#c4be1a" opacity="0.64" filter="url(#j4)"/>
<circle cx="365.6" cy="1621.1" r="3.6" fill="#f4ec24" opacity="0.90" filter="url(#j2)"/>
<circle cx="380.4" cy="1631.9" r="6" fill="#c4be1a" opacity="0.48" filter="url(#j4)"/>
<circle cx="380.4" cy="1631.9" r="3.6" fill="#f4ec24" opacity="0.70" filter="url(#j2)"/>
<circle cx="366.6" cy="1652.6" r="6" fill="#c4be1a" opacity="0.56" filter="url(#j4)"/>
<circle cx="366.6" cy="1652.6" r="3.6" fill="#f4ec24" opacity="0.80" filter="url(#j2)"/>
<circle cx="365.6" cy="1678.2" r="6" fill="#c4be1a" opacity="0.64" filter="url(#j4)"/>
<circle cx="365.6" cy="1678.2" r="3.6" fill="#f4ec24" opacity="0.90" filter="url(#j2)"/>
<circle cx="365.6" cy="1710.8" r="6" fill="#c4be1a" opacity="0.64" filter="url(#j4)"/>
<circle cx="365.6" cy="1710.8" r="3.6" fill="#f4ec24" opacity="0.90" filter="url(#j2)"/>
<circle cx="382.4" cy="1711.8" r="6" fill="#c4be1a" opacity="0.40" filter="url(#j4)"/>
<circle cx="382.4" cy="1711.8" r="3.6" fill="#f4ec24" opacity="0.60" filter="url(#j2)"/>
<circle cx="368.6" cy="1735.4" r="6" fill="#c4be1a" opacity="0.48" filter="url(#j4)"/>
<circle cx="368.6" cy="1735.4" r="3.6" fill="#f4ec24" opacity="0.70" filter="url(#j2)"/>
<circle cx="369.6" cy="1749.2" r="6" fill="#c4be1a" opacity="0.56" filter="url(#j4)"/>
<circle cx="369.6" cy="1749.2" r="3.6" fill="#f4ec24" opacity="0.80" filter="url(#j2)"/>
<circle cx="370.5" cy="1761.0" r="6" fill="#c4be1a" opacity="0.72" filter="url(#j4)"/>
<circle cx="370.5" cy="1761.0" r="3.6" fill="#f4ec24" opacity="1.00" filter="url(#j2)"/>
<circle cx="370.5" cy="1774.8" r="6" fill="#c4be1a" opacity="0.72" filter="url(#j4)"/>
<circle cx="370.5" cy="1774.8" r="3.6" fill="#f4ec24" opacity="1.00" filter="url(#j2)"/>
<circle cx="371.5" cy="1796.5" r="6" fill="#c4be1a" opacity="0.64" filter="url(#j4)"/>
<circle cx="371.5" cy="1796.5" r="3.6" fill="#f4ec24" opacity="0.90" filter="url(#j2)"/>
<circle cx="370.5" cy="1822.1" r="6" fill="#c4be1a" opacity="0.64" filter="url(#j4)"/>
<circle cx="370.5" cy="1822.1" r="3.6" fill="#f4ec24" opacity="0.90" filter="url(#j2)"/>
<circle cx="382.4" cy="1817.2" r="6" fill="#c4be1a" opacity="0.48" filter="url(#j4)"/>
<circle cx="382.4" cy="1817.2" r="3.6" fill="#f4ec24" opacity="0.70" filter="url(#j2)"/>
<circle cx="373.5" cy="1848.7" r="6" fill="#c4be1a" opacity="0.56" filter="url(#j4)"/>
<circle cx="373.5" cy="1848.7" r="3.6" fill="#f4ec24" opacity="0.80" filter="url(#j2)"/>
<circle cx="375.5" cy="1870.4" r="6" fill="#c4be1a" opacity="0.56" filter="url(#j4)"/>
<circle cx="375.5" cy="1870.4" r="3.6" fill="#f4ec24" opacity="0.80" filter="url(#j2)"/>
<circle cx="378.4" cy="1893.1" r="6" fill="#c4be1a" opacity="0.56" filter="url(#j4)"/>
<circle cx="378.4" cy="1893.1" r="3.6" fill="#f4ec24" opacity="0.80" filter="url(#j2)"/>
<circle cx="381.4" cy="1914.7" r="6" fill="#c4be1a" opacity="0.48" filter="url(#j4)"/>
<circle cx="381.4" cy="1914.7" r="3.6" fill="#f4ec24" opacity="0.70" filter="url(#j2)"/>
<rect x="349.9" y="1566.9" width="46.7" height="353.8" fill="#000" filter="url(#nz)"/>
</g>
<clipPath id="cj1"><rect x="399.7" y="1566.9" width="46.7" height="353.8"/></clipPath>
<rect x="399.7" y="1566.9" width="46.7" height="353.8" fill="#5c590b" />
<g clip-path="url(#cj1)">
<rect x="411.0" y="1566.9" width="24" height="353.8" fill="#8a860f" opacity="0.35" filter="url(#j4)"/>
<rect x="399.7" y="1566.9" width="46.7" height="353.8" fill="#000" filter="url(#nz2)"/>
<circle cx="419.8" cy="1610.3" r="6" fill="#c4be1a" opacity="0.64" filter="url(#j4)"/>
<circle cx="419.8" cy="1610.3" r="3.6" fill="#f4ec24" opacity="0.90" filter="url(#j2)"/>
<circle cx="421.8" cy="1642.8" r="6" fill="#c4be1a" opacity="0.72" filter="url(#j4)"/>
<circle cx="421.8" cy="1642.8" r="3.6" fill="#f4ec24" opacity="1.00" filter="url(#j2)"/>
<circle cx="423.8" cy="1662.5" r="6" fill="#c4be1a" opacity="0.56" filter="url(#j4)"/>
<circle cx="423.8" cy="1662.5" r="3.6" fill="#f4ec24" opacity="0.80" filter="url(#j2)"/>
<circle cx="423.8" cy="1679.2" r="6" fill="#c4be1a" opacity="0.64" filter="url(#j4)"/>
<circle cx="423.8" cy="1679.2" r="3.6" fill="#f4ec24" opacity="0.90" filter="url(#j2)"/>
<circle cx="423.8" cy="1692.0" r="6" fill="#c4be1a" opacity="0.72" filter="url(#j4)"/>
<circle cx="423.8" cy="1692.0" r="3.6" fill="#f4ec24" opacity="1.00" filter="url(#j2)"/>
<circle cx="422.8" cy="1705.8" r="6" fill="#c4be1a" opacity="0.72" filter="url(#j4)"/>
<circle cx="422.8" cy="1705.8" r="3.6" fill="#f4ec24" opacity="1.00" filter="url(#j2)"/>
<circle cx="423.8" cy="1719.6" r="6" fill="#c4be1a" opacity="0.72" filter="url(#j4)"/>
<circle cx="423.8" cy="1719.6" r="3.6" fill="#f4ec24" opacity="1.00" filter="url(#j2)"/>
<circle cx="423.8" cy="1734.4" r="6" fill="#c4be1a" opacity="0.64" filter="url(#j4)"/>
<circle cx="423.8" cy="1734.4" r="3.6" fill="#f4ec24" opacity="0.90" filter="url(#j2)"/>
<circle cx="424.4" cy="1750.2" r="6" fill="#c4be1a" opacity="0.72" filter="url(#j4)"/>
<circle cx="424.4" cy="1750.2" r="3.6" fill="#f4ec24" opacity="1.00" filter="url(#j2)"/>
<circle cx="424.4" cy="1763.0" r="6" fill="#c4be1a" opacity="0.80" filter="url(#j4)"/>
<circle cx="424.4" cy="1763.0" r="3.6" fill="#f4ec24" opacity="1.00" filter="url(#j2)"/>
<circle cx="424.4" cy="1776.8" r="6" fill="#c4be1a" opacity="0.80" filter="url(#j4)"/>
<circle cx="424.4" cy="1776.8" r="3.6" fill="#f4ec24" opacity="1.00" filter="url(#j2)"/>
<circle cx="424.4" cy="1790.6" r="6" fill="#c4be1a" opacity="0.72" filter="url(#j4)"/>
<circle cx="424.4" cy="1790.6" r="3.6" fill="#f4ec24" opacity="1.00" filter="url(#j2)"/>
<circle cx="423.8" cy="1805.4" r="6" fill="#c4be1a" opacity="0.72" filter="url(#j4)"/>
<circle cx="423.8" cy="1805.4" r="3.6" fill="#f4ec24" opacity="1.00" filter="url(#j2)"/>
<circle cx="424.4" cy="1820.1" r="6" fill="#c4be1a" opacity="0.64" filter="url(#j4)"/>
<circle cx="424.4" cy="1820.1" r="3.6" fill="#f4ec24" opacity="0.90" filter="url(#j2)"/>
<circle cx="424.7" cy="1833.9" r="6" fill="#c4be1a" opacity="0.72" filter="url(#j4)"/>
<circle cx="424.7" cy="1833.9" r="3.6" fill="#f4ec24" opacity="1.00" filter="url(#j2)"/>
<circle cx="424.4" cy="1851.7" r="6" fill="#c4be1a" opacity="0.64" filter="url(#j4)"/>
<circle cx="424.4" cy="1851.7" r="3.6" fill="#f4ec24" opacity="0.90" filter="url(#j2)"/>
<circle cx="423.8" cy="1873.4" r="6" fill="#c4be1a" opacity="0.64" filter="url(#j4)"/>
<circle cx="423.8" cy="1873.4" r="3.6" fill="#f4ec24" opacity="0.90" filter="url(#j2)"/>
<circle cx="424.7" cy="1902.9" r="6" fill="#c4be1a" opacity="0.72" filter="url(#j4)"/>
<circle cx="424.7" cy="1902.9" r="3.6" fill="#f4ec24" opacity="1.00" filter="url(#j2)"/>
<circle cx="432.6" cy="1612.2" r="6" fill="#c4be1a" opacity="0.40" filter="url(#j4)"/>
<circle cx="432.6" cy="1612.2" r="3.6" fill="#f4ec24" opacity="0.60" filter="url(#j2)"/>
<circle cx="408.0" cy="1609.3" r="6" fill="#c4be1a" opacity="0.32" filter="url(#j4)"/>
<circle cx="408.0" cy="1609.3" r="3.6" fill="#f4ec24" opacity="0.50" filter="url(#j2)"/>
<circle cx="435.6" cy="1754.1" r="6" fill="#c4be1a" opacity="0.40" filter="url(#j4)"/>
<circle cx="435.6" cy="1754.1" r="3.6" fill="#f4ec24" opacity="0.60" filter="url(#j2)"/>
<circle cx="414.9" cy="1816.2" r="6" fill="#c4be1a" opacity="0.40" filter="url(#j4)"/>
<circle cx="414.9" cy="1816.2" r="3.6" fill="#f4ec24" opacity="0.60" filter="url(#j2)"/>
<circle cx="410.9" cy="1899.0" r="6" fill="#c4be1a" opacity="0.32" filter="url(#j4)"/>
<circle cx="410.9" cy="1899.0" r="3.6" fill="#f4ec24" opacity="0.50" filter="url(#j2)"/>
<rect x="399.7" y="1566.9" width="46.7" height="353.8" fill="#000" filter="url(#nz)"/>
</g>
<clipPath id="cj2"><rect x="449.6" y="1566.9" width="47.1" height="353.8"/></clipPath>
<rect x="449.6" y="1566.9" width="47.1" height="353.8" fill="#54510a" />
<g clip-path="url(#cj2)">
<rect x="461.1" y="1566.9" width="24" height="353.8" fill="#8a860f" opacity="0.35" filter="url(#j4)"/>
<rect x="449.6" y="1566.9" width="47.1" height="353.8" fill="#000" filter="url(#nz2)"/>
<circle cx="474.0" cy="1608.3" r="6" fill="#c4be1a" opacity="0.64" filter="url(#j4)"/>
<circle cx="474.0" cy="1608.3" r="3.6" fill="#f4ec24" opacity="0.90" filter="url(#j2)"/>
<circle cx="472.0" cy="1637.8" r="6" fill="#c4be1a" opacity="0.64" filter="url(#j4)"/>
<circle cx="472.0" cy="1637.8" r="3.6" fill="#f4ec24" opacity="0.90" filter="url(#j2)"/>
<circle cx="474.0" cy="1669.4" r="6" fill="#c4be1a" opacity="0.72" filter="url(#j4)"/>
<circle cx="474.0" cy="1669.4" r="3.6" fill="#f4ec24" opacity="1.00" filter="url(#j2)"/>
<circle cx="486.8" cy="1660.5" r="6" fill="#c4be1a" opacity="0.40" filter="url(#j4)"/>
<circle cx="486.8" cy="1660.5" r="3.6" fill="#f4ec24" opacity="0.60" filter="url(#j2)"/>
<circle cx="486.8" cy="1680.2" r="6" fill="#c4be1a" opacity="0.40" filter="url(#j4)"/>
<circle cx="486.8" cy="1680.2" r="3.6" fill="#f4ec24" opacity="0.60" filter="url(#j2)"/>
<circle cx="474.6" cy="1700.9" r="6" fill="#c4be1a" opacity="0.72" filter="url(#j4)"/>
<circle cx="474.6" cy="1700.9" r="3.6" fill="#f4ec24" opacity="1.00" filter="url(#j2)"/>
<circle cx="485.8" cy="1712.7" r="6" fill="#c4be1a" opacity="0.56" filter="url(#j4)"/>
<circle cx="485.8" cy="1712.7" r="3.6" fill="#f4ec24" opacity="0.80" filter="url(#j2)"/>
<circle cx="474.0" cy="1727.5" r="6" fill="#c4be1a" opacity="0.72" filter="url(#j4)"/>
<circle cx="474.0" cy="1727.5" r="3.6" fill="#f4ec24" opacity="1.00" filter="url(#j2)"/>
<circle cx="474.0" cy="1745.3" r="6" fill="#c4be1a" opacity="0.56" filter="url(#j4)"/>
<circle cx="474.0" cy="1745.3" r="3.6" fill="#f4ec24" opacity="0.80" filter="url(#j2)"/>
<circle cx="475.0" cy="1757.1" r="6" fill="#c4be1a" opacity="0.64" filter="url(#j4)"/>
<circle cx="475.0" cy="1757.1" r="3.6" fill="#f4ec24" opacity="0.90" filter="url(#j2)"/>
<circle cx="475.0" cy="1772.8" r="6" fill="#c4be1a" opacity="0.64" filter="url(#j4)"/>
<circle cx="475.0" cy="1772.8" r="3.6" fill="#f4ec24" opacity="0.90" filter="url(#j2)"/>
<circle cx="476.0" cy="1790.6" r="6" fill="#c4be1a" opacity="0.64" filter="url(#j4)"/>
<circle cx="476.0" cy="1790.6" r="3.6" fill="#f4ec24" opacity="0.90" filter="url(#j2)"/>
<circle cx="475.0" cy="1810.3" r="6" fill="#c4be1a" opacity="0.64" filter="url(#j4)"/>
<circle cx="475.0" cy="1810.3" r="3.6" fill="#f4ec24" opacity="0.90" filter="url(#j2)"/>
<circle cx="486.8" cy="1809.3" r="6" fill="#c4be1a" opacity="0.48" filter="url(#j4)"/>
<circle cx="486.8" cy="1809.3" r="3.6" fill="#f4ec24" opacity="0.70" filter="url(#j2)"/>
<circle cx="475.0" cy="1826.1" r="6" fill="#c4be1a" opacity="0.64" filter="url(#j4)"/>
<circle cx="475.0" cy="1826.1" r="3.6" fill="#f4ec24" opacity="0.90" filter="url(#j2)"/>
<circle cx="474.0" cy="1843.8" r="6" fill="#c4be1a" opacity="0.64" filter="url(#j4)"/>
<circle cx="474.0" cy="1843.8" r="3.6" fill="#f4ec24" opacity="0.90" filter="url(#j2)"/>
<circle cx="474.0" cy="1863.5" r="6" fill="#c4be1a" opacity="0.64" filter="url(#j4)"/>
<circle cx="474.0" cy="1863.5" r="3.6" fill="#f4ec24" opacity="0.90" filter="url(#j2)"/>
<circle cx="485.8" cy="1869.4" r="6" fill="#c4be1a" opacity="0.48" filter="url(#j4)"/>
<circle cx="485.8" cy="1869.4" r="3.6" fill="#f4ec24" opacity="0.70" filter="url(#j2)"/>
<circle cx="475.0" cy="1880.3" r="6" fill="#c4be1a" opacity="0.72" filter="url(#j4)"/>
<circle cx="475.0" cy="1880.3" r="3.6" fill="#f4ec24" opacity="1.00" filter="url(#j2)"/>
<circle cx="476.0" cy="1901.0" r="6" fill="#c4be1a" opacity="0.72" filter="url(#j4)"/>
<circle cx="476.0" cy="1901.0" r="3.6" fill="#f4ec24" opacity="1.00" filter="url(#j2)"/>
<circle cx="483.9" cy="1901.9" r="6" fill="#c4be1a" opacity="0.48" filter="url(#j4)"/>
<circle cx="483.9" cy="1901.9" r="3.6" fill="#f4ec24" opacity="0.70" filter="url(#j2)"/>
<rect x="449.6" y="1566.9" width="47.1" height="353.8" fill="#000" filter="url(#nz)"/>
</g>
<clipPath id="cj3"><rect x="499.6" y="1566.9" width="46.9" height="353.8"/></clipPath>
<rect x="499.6" y="1566.9" width="46.9" height="353.8" fill="#7c780f" />
<g clip-path="url(#cj3)">
<rect x="511.0" y="1566.9" width="24" height="353.8" fill="#8a860f" opacity="0.5" filter="url(#j4)"/>
<rect x="499.6" y="1566.9" width="46.9" height="353.8" fill="#000" filter="url(#nz2)"/>
<circle cx="528.2" cy="1602.4" r="6" fill="#c4be1a" opacity="0.64" filter="url(#j4)"/>
<circle cx="528.2" cy="1602.4" r="3.6" fill="#f4ec24" opacity="0.90" filter="url(#j2)"/>
<circle cx="529.2" cy="1632.9" r="6" fill="#c4be1a" opacity="0.72" filter="url(#j4)"/>
<circle cx="529.2" cy="1632.9" r="3.6" fill="#f4ec24" opacity="1.00" filter="url(#j2)"/>
<circle cx="525.3" cy="1662.5" r="6" fill="#c4be1a" opacity="0.72" filter="url(#j4)"/>
<circle cx="525.3" cy="1662.5" r="3.6" fill="#f4ec24" opacity="1.00" filter="url(#j2)"/>
<circle cx="528.2" cy="1672.3" r="6" fill="#c4be1a" opacity="0.64" filter="url(#j4)"/>
<circle cx="528.2" cy="1672.3" r="3.6" fill="#f4ec24" opacity="0.90" filter="url(#j2)"/>
<circle cx="518.4" cy="1690.1" r="6" fill="#c4be1a" opacity="0.72" filter="url(#j4)"/>
<circle cx="518.4" cy="1690.1" r="3.6" fill="#f4ec24" opacity="1.00" filter="url(#j2)"/>
<circle cx="527.2" cy="1706.8" r="6" fill="#c4be1a" opacity="0.64" filter="url(#j4)"/>
<circle cx="527.2" cy="1706.8" r="3.6" fill="#f4ec24" opacity="0.90" filter="url(#j2)"/>
<circle cx="517.4" cy="1715.7" r="6" fill="#c4be1a" opacity="0.64" filter="url(#j4)"/>
<circle cx="517.4" cy="1715.7" r="3.6" fill="#f4ec24" opacity="0.90" filter="url(#j2)"/>
<circle cx="527.2" cy="1731.5" r="6" fill="#c4be1a" opacity="0.56" filter="url(#j4)"/>
<circle cx="527.2" cy="1731.5" r="3.6" fill="#f4ec24" opacity="0.80" filter="url(#j2)"/>
<circle cx="528.2" cy="1745.3" r="6" fill="#c4be1a" opacity="0.72" filter="url(#j4)"/>
<circle cx="528.2" cy="1745.3" r="3.6" fill="#f4ec24" opacity="1.00" filter="url(#j2)"/>
<circle cx="528.2" cy="1757.1" r="6" fill="#c4be1a" opacity="0.72" filter="url(#j4)"/>
<circle cx="528.2" cy="1757.1" r="3.6" fill="#f4ec24" opacity="1.00" filter="url(#j2)"/>
<circle cx="528.2" cy="1767.9" r="6" fill="#c4be1a" opacity="0.72" filter="url(#j4)"/>
<circle cx="528.2" cy="1767.9" r="3.6" fill="#f4ec24" opacity="1.00" filter="url(#j2)"/>
<circle cx="528.8" cy="1780.7" r="6" fill="#c4be1a" opacity="0.72" filter="url(#j4)"/>
<circle cx="528.8" cy="1780.7" r="3.6" fill="#f4ec24" opacity="1.00" filter="url(#j2)"/>
<circle cx="528.2" cy="1796.5" r="6" fill="#c4be1a" opacity="0.80" filter="url(#j4)"/>
<circle cx="528.2" cy="1796.5" r="3.6" fill="#f4ec24" opacity="1.00" filter="url(#j2)"/>
<circle cx="505.5" cy="1797.5" r="6" fill="#c4be1a" opacity="0.72" filter="url(#j4)"/>
<circle cx="505.5" cy="1797.5" r="3.6" fill="#f4ec24" opacity="1.00" filter="url(#j2)"/>
<circle cx="526.2" cy="1816.2" r="6" fill="#c4be1a" opacity="0.72" filter="url(#j4)"/>
<circle cx="526.2" cy="1816.2" r="3.6" fill="#f4ec24" opacity="1.00" filter="url(#j2)"/>
<circle cx="525.3" cy="1835.9" r="6" fill="#c4be1a" opacity="0.72" filter="url(#j4)"/>
<circle cx="525.3" cy="1835.9" r="3.6" fill="#f4ec24" opacity="1.00" filter="url(#j2)"/>
<circle cx="523.3" cy="1855.6" r="6" fill="#c4be1a" opacity="0.64" filter="url(#j4)"/>
<circle cx="523.3" cy="1855.6" r="3.6" fill="#f4ec24" opacity="0.90" filter="url(#j2)"/>
<circle cx="519.3" cy="1881.2" r="6" fill="#c4be1a" opacity="0.64" filter="url(#j4)"/>
<circle cx="519.3" cy="1881.2" r="3.6" fill="#f4ec24" opacity="0.90" filter="url(#j2)"/>
<circle cx="513.4" cy="1751.2" r="6" fill="#c4be1a" opacity="0.56" filter="url(#j4)"/>
<circle cx="513.4" cy="1751.2" r="3.6" fill="#f4ec24" opacity="0.80" filter="url(#j2)"/>
<circle cx="504.6" cy="1822.1" r="6" fill="#c4be1a" opacity="0.48" filter="url(#j4)"/>
<circle cx="504.6" cy="1822.1" r="3.6" fill="#f4ec24" opacity="0.70" filter="url(#j2)"/>
<circle cx="507.5" cy="1621.1" r="6" fill="#c4be1a" opacity="0.56" filter="url(#j4)"/>
<circle cx="507.5" cy="1621.1" r="3.6" fill="#f4ec24" opacity="0.80" filter="url(#j2)"/>
<circle cx="517.4" cy="1623.1" r="6" fill="#c4be1a" opacity="0.56" filter="url(#j4)"/>
<circle cx="517.4" cy="1623.1" r="3.6" fill="#f4ec24" opacity="0.80" filter="url(#j2)"/>
<circle cx="525.3" cy="1619.1" r="6" fill="#c4be1a" opacity="0.48" filter="url(#j4)"/>
<circle cx="525.3" cy="1619.1" r="3.6" fill="#f4ec24" opacity="0.70" filter="url(#j2)"/>
<circle cx="507.5" cy="1648.7" r="6" fill="#c4be1a" opacity="0.40" filter="url(#j4)"/>
<circle cx="507.5" cy="1648.7" r="3.6" fill="#f4ec24" opacity="0.60" filter="url(#j2)"/>
<circle cx="513.4" cy="1766.9" r="6" fill="#c4be1a" opacity="0.48" filter="url(#j4)"/>
<circle cx="513.4" cy="1766.9" r="3.6" fill="#f4ec24" opacity="0.70" filter="url(#j2)"/>
<rect x="499.6" y="1566.9" width="46.9" height="353.8" fill="#000" filter="url(#nz)"/>
</g>
<clipPath id="cj4"><rect x="549.9" y="1566.9" width="46.9" height="353.8"/></clipPath>
<rect x="549.9" y="1566.9" width="46.9" height="353.8" fill="#878311" />
<g clip-path="url(#cj4)">
<rect x="561.3" y="1566.9" width="24" height="353.8" fill="#8a860f" opacity="0.5" filter="url(#j4)"/>
<rect x="549.9" y="1566.9" width="46.9" height="353.8" fill="#000" filter="url(#nz2)"/>
<circle cx="572.6" cy="1589.6" r="6" fill="#c4be1a" opacity="0.64" filter="url(#j4)"/>
<circle cx="572.6" cy="1589.6" r="3.6" fill="#f4ec24" opacity="0.90" filter="url(#j2)"/>
<circle cx="588.3" cy="1589.6" r="6" fill="#c4be1a" opacity="0.64" filter="url(#j4)"/>
<circle cx="588.3" cy="1589.6" r="3.6" fill="#f4ec24" opacity="0.90" filter="url(#j2)"/>
<circle cx="579.5" cy="1595.5" r="6" fill="#c4be1a" opacity="0.64" filter="url(#j4)"/>
<circle cx="579.5" cy="1595.5" r="3.6" fill="#f4ec24" opacity="0.90" filter="url(#j2)"/>
<circle cx="572.6" cy="1621.1" r="6" fill="#c4be1a" opacity="0.80" filter="url(#j4)"/>
<circle cx="572.6" cy="1621.1" r="3.6" fill="#f4ec24" opacity="1.00" filter="url(#j2)"/>
<circle cx="564.7" cy="1609.3" r="6" fill="#c4be1a" opacity="0.48" filter="url(#j4)"/>
<circle cx="564.7" cy="1609.3" r="3.6" fill="#f4ec24" opacity="0.70" filter="url(#j2)"/>
<circle cx="572.6" cy="1655.6" r="6" fill="#c4be1a" opacity="0.80" filter="url(#j4)"/>
<circle cx="572.6" cy="1655.6" r="3.6" fill="#f4ec24" opacity="1.00" filter="url(#j2)"/>
<circle cx="586.4" cy="1662.5" r="6" fill="#c4be1a" opacity="0.56" filter="url(#j4)"/>
<circle cx="586.4" cy="1662.5" r="3.6" fill="#f4ec24" opacity="0.80" filter="url(#j2)"/>
<circle cx="570.6" cy="1687.1" r="6" fill="#c4be1a" opacity="0.80" filter="url(#j4)"/>
<circle cx="570.6" cy="1687.1" r="3.6" fill="#f4ec24" opacity="1.00" filter="url(#j2)"/>
<circle cx="586.4" cy="1696.0" r="6" fill="#c4be1a" opacity="0.56" filter="url(#j4)"/>
<circle cx="586.4" cy="1696.0" r="3.6" fill="#f4ec24" opacity="0.80" filter="url(#j2)"/>
<circle cx="571.6" cy="1715.7" r="6" fill="#c4be1a" opacity="0.64" filter="url(#j4)"/>
<circle cx="571.6" cy="1715.7" r="3.6" fill="#f4ec24" opacity="0.90" filter="url(#j2)"/>
<circle cx="574.5" cy="1731.5" r="6" fill="#c4be1a" opacity="0.64" filter="url(#j4)"/>
<circle cx="574.5" cy="1731.5" r="3.6" fill="#f4ec24" opacity="0.90" filter="url(#j2)"/>
<circle cx="574.5" cy="1744.3" r="6" fill="#c4be1a" opacity="0.72" filter="url(#j4)"/>
<circle cx="574.5" cy="1744.3" r="3.6" fill="#f4ec24" opacity="1.00" filter="url(#j2)"/>
<circle cx="574.5" cy="1752.2" r="6" fill="#c4be1a" opacity="0.64" filter="url(#j4)"/>
<circle cx="574.5" cy="1752.2" r="3.6" fill="#f4ec24" opacity="0.90" filter="url(#j2)"/>
<circle cx="574.5" cy="1761.0" r="6" fill="#c4be1a" opacity="0.72" filter="url(#j4)"/>
<circle cx="574.5" cy="1761.0" r="3.6" fill="#f4ec24" opacity="1.00" filter="url(#j2)"/>
<circle cx="574.5" cy="1775.8" r="6" fill="#c4be1a" opacity="0.72" filter="url(#j4)"/>
<circle cx="574.5" cy="1775.8" r="3.6" fill="#f4ec24" opacity="1.00" filter="url(#j2)"/>
<circle cx="574.5" cy="1793.5" r="6" fill="#c4be1a" opacity="0.64" filter="url(#j4)"/>
<circle cx="574.5" cy="1793.5" r="3.6" fill="#f4ec24" opacity="0.90" filter="url(#j2)"/>
<circle cx="574.5" cy="1812.3" r="6" fill="#c4be1a" opacity="0.72" filter="url(#j4)"/>
<circle cx="574.5" cy="1812.3" r="3.6" fill="#f4ec24" opacity="1.00" filter="url(#j2)"/>
<circle cx="574.5" cy="1826.1" r="6" fill="#c4be1a" opacity="0.72" filter="url(#j4)"/>
<circle cx="574.5" cy="1826.1" r="3.6" fill="#f4ec24" opacity="1.00" filter="url(#j2)"/>
<circle cx="573.5" cy="1843.8" r="6" fill="#c4be1a" opacity="0.64" filter="url(#j4)"/>
<circle cx="573.5" cy="1843.8" r="3.6" fill="#f4ec24" opacity="0.90" filter="url(#j2)"/>
<circle cx="584.4" cy="1839.9" r="6" fill="#c4be1a" opacity="0.64" filter="url(#j4)"/>
<circle cx="584.4" cy="1839.9" r="3.6" fill="#f4ec24" opacity="0.90" filter="url(#j2)"/>
<circle cx="573.5" cy="1863.5" r="6" fill="#c4be1a" opacity="0.56" filter="url(#j4)"/>
<circle cx="573.5" cy="1863.5" r="3.6" fill="#f4ec24" opacity="0.80" filter="url(#j2)"/>
<circle cx="572.6" cy="1881.2" r="6" fill="#c4be1a" opacity="0.64" filter="url(#j4)"/>
<circle cx="572.6" cy="1881.2" r="3.6" fill="#f4ec24" opacity="0.90" filter="url(#j2)"/>
<circle cx="582.4" cy="1873.4" r="6" fill="#c4be1a" opacity="0.56" filter="url(#j4)"/>
<circle cx="582.4" cy="1873.4" r="3.6" fill="#f4ec24" opacity="0.80" filter="url(#j2)"/>
<circle cx="560.7" cy="1899.0" r="6" fill="#c4be1a" opacity="0.64" filter="url(#j4)"/>
<circle cx="560.7" cy="1899.0" r="3.6" fill="#f4ec24" opacity="0.90" filter="url(#j2)"/>
<circle cx="571.6" cy="1895.0" r="6" fill="#c4be1a" opacity="0.64" filter="url(#j4)"/>
<circle cx="571.6" cy="1895.0" r="3.6" fill="#f4ec24" opacity="0.90" filter="url(#j2)"/>
<circle cx="569.6" cy="1914.7" r="6" fill="#c4be1a" opacity="0.72" filter="url(#j4)"/>
<circle cx="569.6" cy="1914.7" r="3.6" fill="#f4ec24" opacity="1.00" filter="url(#j2)"/>
<circle cx="579.5" cy="1910.8" r="6" fill="#c4be1a" opacity="0.64" filter="url(#j4)"/>
<circle cx="579.5" cy="1910.8" r="3.6" fill="#f4ec24" opacity="0.90" filter="url(#j2)"/>
<circle cx="556.8" cy="1727.5" r="6" fill="#c4be1a" opacity="0.40" filter="url(#j4)"/>
<circle cx="556.8" cy="1727.5" r="3.6" fill="#f4ec24" opacity="0.60" filter="url(#j2)"/>
<circle cx="586.4" cy="1725.5" r="6" fill="#c4be1a" opacity="0.48" filter="url(#j4)"/>
<circle cx="586.4" cy="1725.5" r="3.6" fill="#f4ec24" opacity="0.70" filter="url(#j2)"/>
<rect x="549.9" y="1566.9" width="46.9" height="353.8" fill="#000" filter="url(#nz)"/>
</g>
<line x1="366.0" y1="1578.1" x2="374.0" y2="1578.1" stroke="#fff" stroke-width="1.2" transform="rotate(90 370.0 1578.1)"/>
<line x1="366.0" y1="1578.1" x2="374.0" y2="1578.1" stroke="#fff" stroke-width="1.2" transform="rotate(150 370.0 1578.1)"/>
<line x1="366.0" y1="1578.1" x2="374.0" y2="1578.1" stroke="#fff" stroke-width="1.2" transform="rotate(210 370.0 1578.1)"/>
<line x1="415.8" y1="1578.1" x2="423.8" y2="1578.1" stroke="#fff" stroke-width="1.2" transform="rotate(90 419.8 1578.1)"/>
<line x1="415.8" y1="1578.1" x2="423.8" y2="1578.1" stroke="#fff" stroke-width="1.2" transform="rotate(150 419.8 1578.1)"/>
<line x1="415.8" y1="1578.1" x2="423.8" y2="1578.1" stroke="#fff" stroke-width="1.2" transform="rotate(210 419.8 1578.1)"/>
<line x1="470.0" y1="1578.1" x2="478.0" y2="1578.1" stroke="#fff" stroke-width="1.2" transform="rotate(90 474.0 1578.1)"/>
<line x1="470.0" y1="1578.1" x2="478.0" y2="1578.1" stroke="#fff" stroke-width="1.2" transform="rotate(150 474.0 1578.1)"/>
<line x1="470.0" y1="1578.1" x2="478.0" y2="1578.1" stroke="#fff" stroke-width="1.2" transform="rotate(210 474.0 1578.1)"/>
<line x1="520.9" y1="1578.1" x2="528.9" y2="1578.1" stroke="#fff" stroke-width="1.2" transform="rotate(90 524.9 1578.1)"/>
<line x1="520.9" y1="1578.1" x2="528.9" y2="1578.1" stroke="#fff" stroke-width="1.2" transform="rotate(150 524.9 1578.1)"/>
<line x1="520.9" y1="1578.1" x2="528.9" y2="1578.1" stroke="#fff" stroke-width="1.2" transform="rotate(210 524.9 1578.1)"/>
<line x1="567.0" y1="1578.1" x2="575.0" y2="1578.1" stroke="#fff" stroke-width="1.2" transform="rotate(90 571.0 1578.1)"/>
<line x1="567.0" y1="1578.1" x2="575.0" y2="1578.1" stroke="#fff" stroke-width="1.2" transform="rotate(150 571.0 1578.1)"/>
<line x1="567.0" y1="1578.1" x2="575.0" y2="1578.1" stroke="#fff" stroke-width="1.2" transform="rotate(210 571.0 1578.1)"/>
<text x="373.9" y="1940.3" font-size="21.5" text-anchor="middle" class="t" fill="#0c0c0c" >0</text>
<text x="422.8" y="1940.3" font-size="21.5" text-anchor="middle" textLength="20.2" lengthAdjust="spacingAndGlyphs" class="t" fill="#0c0c0c" >1h</text>
<text x="476.0" y="1940.3" font-size="21.5" text-anchor="middle" textLength="20.2" lengthAdjust="spacingAndGlyphs" class="t" fill="#0c0c0c" >2h</text>
<text x="525.3" y="1940.3" font-size="21.5" text-anchor="middle" textLength="20.2" lengthAdjust="spacingAndGlyphs" class="t" fill="#0c0c0c" >3h</text>
<text x="574.5" y="1940.3" font-size="21.5" text-anchor="middle" textLength="20.2" lengthAdjust="spacingAndGlyphs" class="t" fill="#0c0c0c" >4h</text>
<text x="340.5" y="1743.0" font-size="25.5" text-anchor="middle" transform="rotate(-90 340.5 1743.0)" textLength="222.0" lengthAdjust="spacingAndGlyphs" font-style="italic" class="t" fill="#0c0c0c" >BRX::NLS-3xVENUS</text>
<text x="589.0" y="1194.4" font-size="33" font-weight="bold" class="n" fill="#000" >h</text>
<text x="732.0" y="1189.8" font-size="24" textLength="235.0" lengthAdjust="spacingAndGlyphs" class="t" fill="#0c0c0c" >roots with gap cells in:</text>
<rect x="979.3" y="1171.2" width="20.4" height="19.0" fill="#7cc8c2" />
<text x="1007.3" y="1189.8" font-size="24" textLength="51.3" lengthAdjust="spacingAndGlyphs" class="t" fill="#0c0c0c" >none</text>
<rect x="1071.7" y="1171.2" width="19.6" height="19.0" fill="#e84e0f" />
<text x="1099.0" y="1189.8" font-size="24" textLength="38.0" lengthAdjust="spacingAndGlyphs" class="t" fill="#0c0c0c" >one</text>
<rect x="1146.4" y="1171.2" width="20.5" height="19.0" fill="#f18805" />
<text x="1174.8" y="1189.8" font-size="24" textLength="130.6" lengthAdjust="spacingAndGlyphs" class="t" fill="#0c0c0c" >both strands</text>
<line x1="661.0" y1="1202.4" x2="1400.0" y2="1202.4" stroke="#dcdfe1" stroke-width="1.2" stroke-dasharray="17 12.4"/>
<line x1="661.0" y1="1272.2" x2="1400.0" y2="1272.2" stroke="#dcdfe1" stroke-width="1.2" stroke-dasharray="17 12.4"/>
<line x1="661.0" y1="1342.0" x2="1400.0" y2="1342.0" stroke="#dcdfe1" stroke-width="1.2" stroke-dasharray="17 12.4"/>
<line x1="661.0" y1="1411.8" x2="1400.0" y2="1411.8" stroke="#dcdfe1" stroke-width="1.2" stroke-dasharray="17 12.4"/>
<line x1="661.0" y1="1481.6" x2="1412.8" y2="1481.6" stroke="#d9d9d9" stroke-width="1.2" />
<line x1="661.0" y1="1481.6" x2="661.0" y2="1487.0" stroke="#d9d9d9" stroke-width="1.2" />
<line x1="714.7" y1="1481.6" x2="714.7" y2="1487.0" stroke="#d9d9d9" stroke-width="1.2" />
<line x1="768.3" y1="1481.6" x2="768.3" y2="1506.5" stroke="#d9d9d9" stroke-width="1.2" />
<line x1="1412.8" y1="1481.6" x2="1412.8" y2="1507.0" stroke="#d9d9d9" stroke-width="1.2" />
<text x="653.5" y="1210.7" font-size="19.5" text-anchor="end" textLength="32.0" lengthAdjust="spacingAndGlyphs" class="t" fill="#0c0c0c" >100</text>
<text x="653.5" y="1489.5" font-size="19.5" text-anchor="end" class="t" fill="#0c0c0c" >0</text>
<text x="643.6" y="1343.0" font-size="24.5" text-anchor="middle" transform="rotate(-90 643.6 1343.0)" textLength="157.0" lengthAdjust="spacingAndGlyphs" class="t" fill="#0c0c0c" >PPSE gaps, %</text>
<rect x="676.7" y="1202.4" width="22.1" height="279.2" fill="#7cc8c2" />
<text x="696.2" y="1478.5" font-size="20.5" transform="rotate(-90 696.2 1478.5)" textLength="47.0" lengthAdjust="spacingAndGlyphs" class="n" fill="#fff" stroke="#7cc8c2" stroke-width="0.35" paint-order="fill stroke">n=26</text>
<rect x="730.2" y="1353.7" width="22.1" height="127.9" fill="#7cc8c2" />
<rect x="730.2" y="1246.1" width="22.1" height="107.6" fill="#e84e0f" />
<rect x="730.2" y="1202.4" width="22.1" height="43.7" fill="#f18805" />
<text x="749.7" y="1478.5" font-size="20.5" transform="rotate(-90 749.7 1478.5)" textLength="47.0" lengthAdjust="spacingAndGlyphs" class="n" fill="#fff" stroke="#7cc8c2" stroke-width="0.35" paint-order="fill stroke">n=26</text>
<rect x="783.7" y="1342.7" width="22.1" height="138.9" fill="#7cc8c2" />
<rect x="783.7" y="1202.4" width="22.1" height="140.3" fill="#e84e0f" />
<text x="803.2" y="1478.5" font-size="20.5" transform="rotate(-90 803.2 1478.5)" textLength="47.0" lengthAdjust="spacingAndGlyphs" class="n" fill="#fff" stroke="#7cc8c2" stroke-width="0.35" paint-order="fill stroke">n=20</text>
<rect x="837.3" y="1278.9" width="22.1" height="202.7" fill="#7cc8c2" />
<rect x="837.3" y="1202.4" width="22.1" height="76.5" fill="#e84e0f" />
<text x="856.8" y="1478.5" font-size="20.5" transform="rotate(-90 856.8 1478.5)" textLength="47.0" lengthAdjust="spacingAndGlyphs" class="n" fill="#fff" stroke="#7cc8c2" stroke-width="0.35" paint-order="fill stroke">n=22</text>
<rect x="891.0" y="1327.3" width="22.1" height="154.3" fill="#7cc8c2" />
<rect x="891.0" y="1265.0" width="22.1" height="62.3" fill="#e84e0f" />
<rect x="891.0" y="1202.4" width="22.1" height="62.6" fill="#f18805" />
<text x="910.5" y="1478.5" font-size="20.5" transform="rotate(-90 910.5 1478.5)" textLength="47.0" lengthAdjust="spacingAndGlyphs" class="n" fill="#fff" stroke="#7cc8c2" stroke-width="0.35" paint-order="fill stroke">n=18</text>
<rect x="944.8" y="1307.0" width="22.1" height="174.6" fill="#7cc8c2" />
<rect x="944.8" y="1202.4" width="22.1" height="104.6" fill="#e84e0f" />
<text x="964.3" y="1478.5" font-size="20.5" transform="rotate(-90 964.3 1478.5)" textLength="47.0" lengthAdjust="spacingAndGlyphs" class="n" fill="#fff" stroke="#7cc8c2" stroke-width="0.35" paint-order="fill stroke">n=16</text>
<rect x="998.7" y="1326.9" width="19.6" height="154.7" fill="#7cc8c2" />
<rect x="998.7" y="1233.2" width="19.6" height="93.7" fill="#e84e0f" />
<rect x="998.7" y="1202.4" width="19.6" height="30.8" fill="#f18805" />
<text x="1017.1" y="1478.5" font-size="20.5" transform="rotate(-90 1017.1 1478.5)" textLength="47.0" lengthAdjust="spacingAndGlyphs" class="n" fill="#fff" stroke="#7cc8c2" stroke-width="0.35" paint-order="fill stroke">n=18</text>
<rect x="1052.6" y="1303.5" width="19.6" height="178.1" fill="#7cc8c2" />
<rect x="1052.6" y="1202.4" width="19.6" height="101.1" fill="#e84e0f" />
<text x="1071.0" y="1478.5" font-size="20.5" transform="rotate(-90 1071.0 1478.5)" textLength="47.0" lengthAdjust="spacingAndGlyphs" class="n" fill="#fff" stroke="#7cc8c2" stroke-width="0.35" paint-order="fill stroke">n=22</text>
<rect x="1106.2" y="1314.3" width="19.6" height="167.3" fill="#7cc8c2" />
<rect x="1106.2" y="1202.4" width="19.6" height="111.9" fill="#e84e0f" />
<text x="1124.6" y="1478.5" font-size="20.5" transform="rotate(-90 1124.6 1478.5)" textLength="47.0" lengthAdjust="spacingAndGlyphs" class="n" fill="#fff" stroke="#7cc8c2" stroke-width="0.35" paint-order="fill stroke">n=20</text>
<rect x="1160.2" y="1358.2" width="19.6" height="123.4" fill="#7cc8c2" />
<rect x="1160.2" y="1233.2" width="19.6" height="125.0" fill="#e84e0f" />
<rect x="1160.2" y="1202.4" width="19.6" height="30.8" fill="#f18805" />
<text x="1178.6" y="1478.5" font-size="20.5" transform="rotate(-90 1178.6 1478.5)" textLength="47.0" lengthAdjust="spacingAndGlyphs" class="n" fill="#fff" stroke="#7cc8c2" stroke-width="0.35" paint-order="fill stroke">n=18</text>
<rect x="1214.3" y="1342.1" width="19.6" height="139.5" fill="#7cc8c2" />
<rect x="1214.3" y="1202.4" width="19.6" height="139.7" fill="#e84e0f" />
<text x="1232.7" y="1478.5" font-size="20.5" transform="rotate(-90 1232.7 1478.5)" textLength="47.0" lengthAdjust="spacingAndGlyphs" class="n" fill="#fff" stroke="#7cc8c2" stroke-width="0.35" paint-order="fill stroke">n=12</text>
<rect x="1267.9" y="1286.5" width="19.6" height="195.1" fill="#7cc8c2" />
<rect x="1267.9" y="1202.4" width="19.6" height="84.1" fill="#e84e0f" />
<text x="1286.3" y="1478.5" font-size="20.5" transform="rotate(-90 1286.3 1478.5)" textLength="47.0" lengthAdjust="spacingAndGlyphs" class="n" fill="#fff" stroke="#7cc8c2" stroke-width="0.35" paint-order="fill stroke">n=20</text>
<rect x="1321.5" y="1331.9" width="19.6" height="149.7" fill="#7cc8c2" />
<rect x="1321.5" y="1223.8" width="19.6" height="108.1" fill="#e84e0f" />
<rect x="1321.5" y="1202.4" width="19.6" height="21.4" fill="#f18805" />
<text x="1339.9" y="1478.5" font-size="20.5" transform="rotate(-90 1339.9 1478.5)" textLength="47.0" lengthAdjust="spacingAndGlyphs" class="n" fill="#fff" stroke="#7cc8c2" stroke-width="0.35" paint-order="fill stroke">n=26</text>
<rect x="1375.3" y="1319.6" width="19.6" height="162.0" fill="#7cc8c2" />
<rect x="1375.3" y="1202.4" width="19.6" height="117.2" fill="#e84e0f" />
<text x="1393.7" y="1478.5" font-size="20.5" transform="rotate(-90 1393.7 1478.5)" textLength="47.0" lengthAdjust="spacingAndGlyphs" class="n" fill="#fff" stroke="#7cc8c2" stroke-width="0.35" paint-order="fill stroke">n=24</text>
<text x="687.5" y="1348.0" font-size="17" text-anchor="middle" class="n" fill="#243a38" >a</text>
<text x="694.5" y="1547.0" font-size="24.5" transform="rotate(-90 694.5 1547.0)" textLength="58.0" lengthAdjust="spacingAndGlyphs" class="t" fill="#0c0c0c" >Col-0</text>
<text x="748.0" y="1527.0" font-size="24.5" transform="rotate(-90 748.0 1527.0)" textLength="36.5" lengthAdjust="spacingAndGlyphs" font-style="italic" class="t" fill="#0c0c0c" >pax</text>
<text x="862.5" y="1508.2" class="t" fill="#0c0c0c" font-size="24.5" font-style="italic" textLength="454.5" lengthAdjust="spacingAndGlyphs">PAX::D6PK-CITRINE<tspan font-style="normal"> in </tspan>pax<tspan font-style="normal">, several lines</tspan></text>
<text x="612.5" y="1608.0" font-size="33" font-weight="bold" class="n" fill="#000" >k</text>
<rect x="836.8" y="1587.4" width="17.0" height="17.9" fill="#7cc8c2" />
<text x="860.7" y="1605.3" font-size="24.5" textLength="59.8" lengthAdjust="spacingAndGlyphs" class="t" fill="#0c0c0c" >mock</text>
<rect x="949.4" y="1587.4" width="17.0" height="17.9" fill="#e84e0f" />
<text x="974.7" y="1605.3" font-size="24.5" textLength="108.0" lengthAdjust="spacingAndGlyphs" class="t" fill="#0c0c0c" >10µM IAA</text>
<line x1="722.3" y1="1616.0" x2="1195.4" y2="1616.0" stroke="#dcdcdc" stroke-width="1.2" stroke-dasharray="17 12.4"/>
<text x="719.6" y="1623.3" font-size="19.8" text-anchor="end" textLength="33.0" lengthAdjust="spacingAndGlyphs" class="t" fill="#0c0c0c" >225</text>
<line x1="722.3" y1="1656.3" x2="1195.4" y2="1656.3" stroke="#dcdcdc" stroke-width="1.2" stroke-dasharray="17 12.4"/>
<text x="719.6" y="1663.6" font-size="19.8" text-anchor="end" textLength="33.0" lengthAdjust="spacingAndGlyphs" class="t" fill="#0c0c0c" >200</text>
<line x1="722.3" y1="1696.7" x2="1195.4" y2="1696.7" stroke="#dcdcdc" stroke-width="1.2" stroke-dasharray="17 12.4"/>
<text x="719.6" y="1704.0" font-size="19.8" text-anchor="end" textLength="33.0" lengthAdjust="spacingAndGlyphs" class="t" fill="#0c0c0c" >175</text>
<line x1="722.3" y1="1737.0" x2="1195.4" y2="1737.0" stroke="#dcdcdc" stroke-width="1.2" stroke-dasharray="17 12.4"/>
<text x="719.6" y="1744.3" font-size="19.8" text-anchor="end" textLength="33.0" lengthAdjust="spacingAndGlyphs" class="t" fill="#0c0c0c" >150</text>
<line x1="722.3" y1="1777.3" x2="1195.4" y2="1777.3" stroke="#dcdcdc" stroke-width="1.2" stroke-dasharray="17 12.4"/>
<text x="719.6" y="1784.6" font-size="19.8" text-anchor="end" textLength="33.0" lengthAdjust="spacingAndGlyphs" class="t" fill="#0c0c0c" >125</text>
<line x1="722.3" y1="1817.6" x2="1195.4" y2="1817.6" stroke="#dcdcdc" stroke-width="1.2" stroke-dasharray="17 12.4"/>
<text x="719.6" y="1824.9" font-size="19.8" text-anchor="end" textLength="33.0" lengthAdjust="spacingAndGlyphs" class="t" fill="#0c0c0c" >100</text>
<line x1="722.3" y1="1858.0" x2="1195.4" y2="1858.0" stroke="#dcdcdc" stroke-width="1.2" stroke-dasharray="17 12.4"/>
<text x="719.6" y="1865.3" font-size="19.8" text-anchor="end" textLength="22.3" lengthAdjust="spacingAndGlyphs" class="t" fill="#0c0c0c" >75</text>
<text x="719.6" y="1905.6" font-size="19.8" text-anchor="end" textLength="22.3" lengthAdjust="spacingAndGlyphs" class="t" fill="#0c0c0c" >50</text>
<line x1="722.3" y1="1898.3" x2="1195.4" y2="1898.3" stroke="#dedede" stroke-width="1.2" />
<line x1="723.2" y1="1898.3" x2="723.2" y2="1901.5" stroke="#dedede" stroke-width="1.2" />
<line x1="817.6" y1="1898.3" x2="817.6" y2="1901.5" stroke="#dedede" stroke-width="1.2" />
<line x1="912.0" y1="1898.3" x2="912.0" y2="1901.5" stroke="#dedede" stroke-width="1.2" />
<line x1="1006.5" y1="1898.3" x2="1006.5" y2="1901.5" stroke="#dedede" stroke-width="1.2" />
<line x1="1101.0" y1="1898.3" x2="1101.0" y2="1901.5" stroke="#dedede" stroke-width="1.2" />
<line x1="1195.4" y1="1898.3" x2="1195.4" y2="1901.5" stroke="#dedede" stroke-width="1.2" />
<line x1="769.2" y1="1748.7" x2="769.2" y2="1854.0" stroke="#8a8a8a" stroke-width="1.2" />
<line x1="766.3" y1="1748.7" x2="772.1" y2="1748.7" stroke="#8a8a8a" stroke-width="1.2" />
<line x1="766.3" y1="1854.0" x2="772.1" y2="1854.0" stroke="#8a8a8a" stroke-width="1.2" />
<rect x="750.4" y="1776.8" width="37.6" height="37.7" fill="#7cc8c2" stroke="#6e6e6e" stroke-width="1" />
<line x1="750.4" y1="1786.0" x2="788.0" y2="1786.0" stroke="#6e6e6e" stroke-width="1.4" />
<ellipse cx="769.2" cy="1795.6" rx="4.6" ry="4" fill="#fff"/>
<text x="769.2" y="1894.7" font-size="20.5" text-anchor="middle" textLength="46.2" lengthAdjust="spacingAndGlyphs" class="t" fill="#0c0c0c" >n=16</text>
<text x="769.2" y="1919.5" font-size="20.5" text-anchor="middle" class="t" fill="#0c0c0c" >0</text>
<line x1="864.4" y1="1689.9" x2="864.4" y2="1863.7" stroke="#8a8a8a" stroke-width="1.2" />
<line x1="861.5" y1="1689.9" x2="867.3" y2="1689.9" stroke="#8a8a8a" stroke-width="1.2" />
<line x1="861.5" y1="1863.7" x2="867.3" y2="1863.7" stroke="#8a8a8a" stroke-width="1.2" />
<rect x="845.6" y="1744.1" width="37.6" height="44.6" fill="#ee5a24" stroke="#6e6e6e" stroke-width="1" />
<line x1="845.6" y1="1765.3" x2="883.2" y2="1765.3" stroke="#6e6e6e" stroke-width="1.4" />
<ellipse cx="864.4" cy="1767.1" rx="4.6" ry="4" fill="#fff"/>
<text x="864.4" y="1894.7" font-size="20.5" text-anchor="middle" textLength="46.2" lengthAdjust="spacingAndGlyphs" class="t" fill="#0c0c0c" >n=22</text>
<text x="864.4" y="1919.5" font-size="20.5" text-anchor="middle" textLength="19.8" lengthAdjust="spacingAndGlyphs" class="t" fill="#0c0c0c" >1h</text>
<line x1="959.1" y1="1731.7" x2="959.1" y2="1855.4" stroke="#8a8a8a" stroke-width="1.2" />
<line x1="956.2" y1="1731.7" x2="962.0" y2="1731.7" stroke="#8a8a8a" stroke-width="1.2" />
<line x1="956.2" y1="1855.4" x2="962.0" y2="1855.4" stroke="#8a8a8a" stroke-width="1.2" />
<rect x="940.3" y="1767.6" width="37.6" height="33.5" fill="#ee5a24" stroke="#6e6e6e" stroke-width="1" />
<line x1="940.3" y1="1775.4" x2="977.9" y2="1775.4" stroke="#6e6e6e" stroke-width="1.4" />
<ellipse cx="959.1" cy="1782.3" rx="4.6" ry="4" fill="#fff"/>
<text x="959.1" y="1894.7" font-size="20.5" text-anchor="middle" textLength="46.2" lengthAdjust="spacingAndGlyphs" class="t" fill="#0c0c0c" >n=15</text>
<text x="959.1" y="1919.5" font-size="20.5" text-anchor="middle" textLength="19.8" lengthAdjust="spacingAndGlyphs" class="t" fill="#0c0c0c" >2h</text>
<line x1="1053.8" y1="1660.5" x2="1053.8" y2="1816.3" stroke="#8a8a8a" stroke-width="1.2" />
<line x1="1050.9" y1="1660.5" x2="1056.7" y2="1660.5" stroke="#8a8a8a" stroke-width="1.2" />
<line x1="1050.9" y1="1816.3" x2="1056.7" y2="1816.3" stroke="#8a8a8a" stroke-width="1.2" />
<rect x="1035.0" y="1712.4" width="37.6" height="64.8" fill="#ee5a24" stroke="#6e6e6e" stroke-width="1" />
<line x1="1035.0" y1="1752.0" x2="1072.6" y2="1752.0" stroke="#6e6e6e" stroke-width="1.4" />
<ellipse cx="1053.8" cy="1747.4" rx="4.6" ry="4" fill="#fff"/>
<text x="1053.8" y="1894.7" font-size="20.5" text-anchor="middle" textLength="46.2" lengthAdjust="spacingAndGlyphs" class="t" fill="#0c0c0c" >n=16</text>
<text x="1053.8" y="1919.5" font-size="20.5" text-anchor="middle" textLength="19.8" lengthAdjust="spacingAndGlyphs" class="t" fill="#0c0c0c" >3h</text>
<line x1="1148.5" y1="1645.3" x2="1148.5" y2="1780.5" stroke="#8a8a8a" stroke-width="1.2" />
<line x1="1145.6" y1="1645.3" x2="1151.4" y2="1645.3" stroke="#8a8a8a" stroke-width="1.2" />
<line x1="1145.6" y1="1780.5" x2="1151.4" y2="1780.5" stroke="#8a8a8a" stroke-width="1.2" />
<rect x="1129.7" y="1698.2" width="37.6" height="42.3" fill="#ee5a24" stroke="#6e6e6e" stroke-width="1" />
<line x1="1129.7" y1="1718.4" x2="1167.3" y2="1718.4" stroke="#6e6e6e" stroke-width="1.4" />
<ellipse cx="1148.5" cy="1716.1" rx="4.6" ry="4" fill="#fff"/>
<text x="1148.5" y="1894.7" font-size="20.5" text-anchor="middle" textLength="46.2" lengthAdjust="spacingAndGlyphs" class="t" fill="#0c0c0c" >n=17</text>
<text x="1148.5" y="1919.5" font-size="20.5" text-anchor="middle" textLength="19.8" lengthAdjust="spacingAndGlyphs" class="t" fill="#0c0c0c" >4h</text>
<text x="864.4" y="1682.5" font-size="23" text-anchor="middle" class="t" fill="#0c0c0c" >a</text>
<text x="1052.9" y="1651.7" font-size="23" text-anchor="middle" class="t" fill="#0c0c0c" >a</text>
<text x="1148.0" y="1640.2" font-size="23" text-anchor="middle" class="t" fill="#0c0c0c" >a</text>
<text x="643.0" y="1763.0" font-size="24" text-anchor="middle" transform="rotate(-90 643.0 1763.0)" textLength="237.0" lengthAdjust="spacingAndGlyphs" class="t" fill="#0c0c0c" >NLS-3xVENUS signal</text>
<text x="669.5" y="1763.0" font-size="24" text-anchor="middle" transform="rotate(-90 669.5 1763.0)" textLength="239.0" lengthAdjust="spacingAndGlyphs" class="t" fill="#0c0c0c" >intensity in protophloem</text>
</svg>
</body></html>
